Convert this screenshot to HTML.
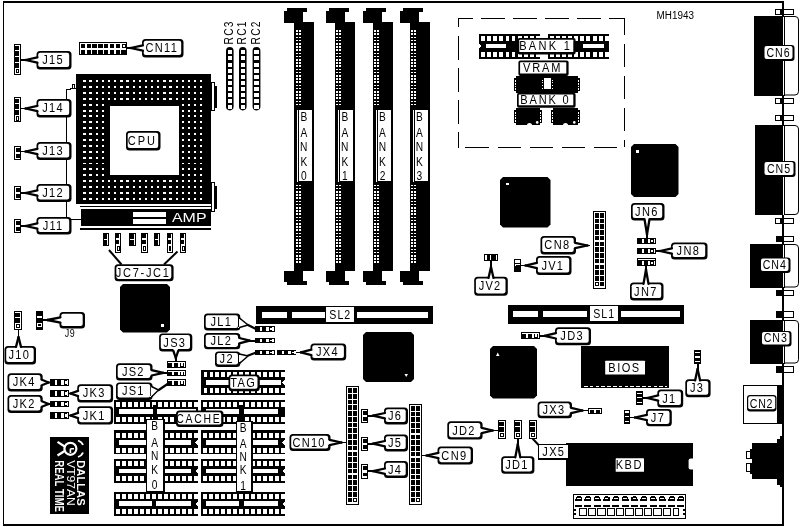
<!DOCTYPE html>
<html><head><meta charset="utf-8"><title>MH1943</title>
<style>
html,body{margin:0;padding:0;background:#fff;}
body{width:801px;height:527px;overflow:hidden;}
svg{display:block;font-family:"Liberation Sans",sans-serif;filter:grayscale(1);}
svg *{shape-rendering:crispEdges;}
svg text{shape-rendering:auto;}
svg .aa{shape-rendering:geometricPrecision;}
</style></head><body>
<svg width="801" height="527" viewBox="0 0 801 527">
<rect x="0" y="0" width="801" height="527" fill="#fff"/>
<rect x="3" y="1" width="781" height="2" fill="#000" />
<rect x="3" y="1" width="1" height="525" fill="#000" />
<rect x="3" y="524" width="781" height="2" fill="#000" />
<rect x="782" y="1" width="2" height="525" fill="#000" />
<line x1="66.5" y1="90" x2="66.5" y2="219.5" stroke="#000" stroke-width="1" />
<line x1="66" y1="219.5" x2="81" y2="219.5" stroke="#000" stroke-width="1" />
<polygon points="66.5,90 72,88.5 72,85 74,84 74.5,88 76,88" fill="none" stroke="#000" stroke-width="1" />
<rect x="14.5" y="44.5" width="6" height="29.8" fill="#fff" stroke="#000" stroke-width="1"/>
<rect x="15" y="45.6" width="4.4" height="4.76" fill="#000" />
<rect x="15" y="51.36" width="4.4" height="4.76" fill="#000" />
<rect x="15" y="57.12" width="4.4" height="4.76" fill="#000" />
<rect x="15" y="62.88" width="4.4" height="4.76" fill="#000" />
<rect x="16" y="69.24" width="2.8" height="3.56" fill="#fff" stroke="#000" stroke-width="1"/>
<rect x="36.5" y="51" width="35" height="18.5" rx="3.5" fill="#000" class="aa"/>
<rect x="38.2" y="52.7" width="31" height="14.4" rx="2.1" fill="#fff" class="aa"/>
<text transform="translate(53.1,64.3885) scale(0.85,1)" font-size="13" letter-spacing="1.53" text-anchor="middle" fill="#000"  >J15</text>
<line x1="21" y1="60" x2="27.5" y2="60" stroke="#000" stroke-width="1.8" />
<polygon points="25.5,60 38.8,57 38.8,63" fill="#fff" stroke="none" stroke-width="1" />
<line x1="25.5" y1="60" x2="37.4" y2="57.3" stroke="#000" stroke-width="2.3" class="aa" stroke-linecap="round"/>
<line x1="25.5" y1="60" x2="37.4" y2="62.7" stroke="#000" stroke-width="2.3" class="aa" stroke-linecap="round"/>
<rect x="14.5" y="97.5" width="6" height="24" fill="#fff" stroke="#000" stroke-width="1"/>
<rect x="15" y="98.6" width="4.4" height="4.75" fill="#000" />
<rect x="15" y="104.35" width="4.4" height="4.75" fill="#000" />
<rect x="15" y="110.1" width="4.4" height="4.75" fill="#000" />
<rect x="16" y="116.45" width="2.8" height="3.55" fill="#fff" stroke="#000" stroke-width="1"/>
<rect x="36.5" y="99" width="35" height="18.5" rx="3.5" fill="#000" class="aa"/>
<rect x="38.2" y="100.7" width="31" height="14.4" rx="2.1" fill="#fff" class="aa"/>
<text transform="translate(53.1,112.389) scale(0.85,1)" font-size="13" letter-spacing="1.53" text-anchor="middle" fill="#000"  >J14</text>
<line x1="21" y1="108.5" x2="27.5" y2="108.5" stroke="#000" stroke-width="1.8" />
<polygon points="25.5,108.5 38.8,105.5 38.8,111.5" fill="#fff" stroke="none" stroke-width="1" />
<line x1="25.5" y1="108.5" x2="37.4" y2="105.8" stroke="#000" stroke-width="2.3" class="aa" stroke-linecap="round"/>
<line x1="25.5" y1="108.5" x2="37.4" y2="111.2" stroke="#000" stroke-width="2.3" class="aa" stroke-linecap="round"/>
<rect x="14" y="145.9" width="7" height="14.1" fill="#000" />
<rect x="15" y="146.9" width="5" height="12.1" fill="#fff" />
<rect x="16.2" y="148" width="4.8" height="3.75" fill="#000" />
<rect x="16.2" y="154.15" width="4.8" height="3.75" fill="#000" />
<rect x="36.5" y="142" width="35" height="18" rx="3.5" fill="#000" class="aa"/>
<rect x="38.2" y="143.7" width="31" height="13.9" rx="2.1" fill="#fff" class="aa"/>
<text transform="translate(53.1,155.138) scale(0.85,1)" font-size="13" letter-spacing="1.53" text-anchor="middle" fill="#000"  >J13</text>
<line x1="21" y1="151.5" x2="27.5" y2="151.5" stroke="#000" stroke-width="1.8" />
<polygon points="25.5,151.5 38.8,148.5 38.8,154.5" fill="#fff" stroke="none" stroke-width="1" />
<line x1="25.5" y1="151.5" x2="37.4" y2="148.8" stroke="#000" stroke-width="2.3" class="aa" stroke-linecap="round"/>
<line x1="25.5" y1="151.5" x2="37.4" y2="154.2" stroke="#000" stroke-width="2.3" class="aa" stroke-linecap="round"/>
<rect x="14" y="185.9" width="7" height="14.1" fill="#000" />
<rect x="15" y="186.9" width="5" height="12.1" fill="#fff" />
<rect x="16.2" y="188" width="4.8" height="3.75" fill="#000" />
<rect x="16.2" y="194.15" width="4.8" height="3.75" fill="#000" />
<rect x="36.5" y="184" width="35" height="18" rx="3.5" fill="#000" class="aa"/>
<rect x="38.2" y="185.7" width="31" height="13.9" rx="2.1" fill="#fff" class="aa"/>
<text transform="translate(53.1,197.138) scale(0.85,1)" font-size="13" letter-spacing="1.53" text-anchor="middle" fill="#000"  >J12</text>
<line x1="21" y1="193" x2="27.5" y2="193" stroke="#000" stroke-width="1.8" />
<polygon points="25.5,193 38.8,190 38.8,196" fill="#fff" stroke="none" stroke-width="1" />
<line x1="25.5" y1="193" x2="37.4" y2="190.3" stroke="#000" stroke-width="2.3" class="aa" stroke-linecap="round"/>
<line x1="25.5" y1="193" x2="37.4" y2="195.7" stroke="#000" stroke-width="2.3" class="aa" stroke-linecap="round"/>
<rect x="14" y="218.9" width="7" height="14.1" fill="#000" />
<rect x="15" y="219.9" width="5" height="12.1" fill="#fff" />
<rect x="16.2" y="221" width="4.8" height="3.75" fill="#000" />
<rect x="16.2" y="227.15" width="4.8" height="3.75" fill="#000" />
<rect x="36.5" y="217" width="35" height="17.5" rx="3.5" fill="#000" class="aa"/>
<rect x="38.2" y="218.7" width="31" height="13.4" rx="2.1" fill="#fff" class="aa"/>
<text transform="translate(53.1,229.888) scale(0.85,1)" font-size="13" letter-spacing="1.53" text-anchor="middle" fill="#000"  >J11</text>
<line x1="21" y1="226" x2="27.5" y2="226" stroke="#000" stroke-width="1.8" />
<polygon points="25.5,226 38.8,223 38.8,229" fill="#fff" stroke="none" stroke-width="1" />
<line x1="25.5" y1="226" x2="37.4" y2="223.3" stroke="#000" stroke-width="2.3" class="aa" stroke-linecap="round"/>
<line x1="25.5" y1="226" x2="37.4" y2="228.7" stroke="#000" stroke-width="2.3" class="aa" stroke-linecap="round"/>
<rect x="79.5" y="42.5" width="47" height="11.6" fill="#fff" stroke="#000" stroke-width="1"/>
<rect x="80.8" y="44" width="4.4" height="4" fill="#000" />
<rect x="80.8" y="49.6" width="4.4" height="4" fill="#000" />
<rect x="86.6" y="44" width="4.4" height="4" fill="#000" />
<rect x="86.6" y="49.6" width="4.4" height="4" fill="#000" />
<rect x="92.4" y="44" width="4.4" height="4" fill="#000" />
<rect x="92.4" y="49.6" width="4.4" height="4" fill="#000" />
<rect x="98.2" y="44" width="4.4" height="4" fill="#000" />
<rect x="98.2" y="49.6" width="4.4" height="4" fill="#000" />
<rect x="104" y="44" width="4.4" height="4" fill="#000" />
<rect x="104" y="49.6" width="4.4" height="4" fill="#000" />
<rect x="109.8" y="44" width="4.4" height="4" fill="#000" />
<rect x="109.8" y="49.6" width="4.4" height="4" fill="#000" />
<rect x="115.6" y="44" width="4.4" height="4" fill="#000" />
<rect x="115.6" y="49.6" width="4.4" height="4" fill="#000" />
<rect x="122.4" y="44.5" width="2.6" height="3" fill="#fff" stroke="#000" stroke-width="1"/>
<rect x="121.4" y="49.6" width="4.4" height="4" fill="#000" />
<rect x="142" y="39" width="41.5" height="18.5" rx="3.5" fill="#000" class="aa"/>
<rect x="143.7" y="40.7" width="37.5" height="14.4" rx="2.1" fill="#fff" class="aa"/>
<text transform="translate(161.85,52.3885) scale(0.85,1)" font-size="13" letter-spacing="1.53" text-anchor="middle" fill="#000"  >CN11</text>
<line x1="127" y1="48" x2="132.5" y2="48" stroke="#000" stroke-width="1.8" />
<polygon points="130.5,48 144.3,45 144.3,51" fill="#fff" stroke="none" stroke-width="1" />
<line x1="130.5" y1="48" x2="142.9" y2="45.3" stroke="#000" stroke-width="2.3" class="aa" stroke-linecap="round"/>
<line x1="130.5" y1="48" x2="142.9" y2="50.7" stroke="#000" stroke-width="2.3" class="aa" stroke-linecap="round"/>
<rect x="76" y="74" width="135" height="130" fill="#000" />
<rect x="83.3" y="80.2" width="2.3" height="1.9" fill="#fff" />
<rect x="83.3" y="86.08" width="2.3" height="1.9" fill="#fff" />
<rect x="83.3" y="91.96" width="2.3" height="1.9" fill="#fff" />
<rect x="83.3" y="97.84" width="2.3" height="1.9" fill="#fff" />
<rect x="83.3" y="103.72" width="2.3" height="1.9" fill="#fff" />
<rect x="83.3" y="109.6" width="2.3" height="1.9" fill="#fff" />
<rect x="83.3" y="115.48" width="2.3" height="1.9" fill="#fff" />
<rect x="83.3" y="121.36" width="2.3" height="1.9" fill="#fff" />
<rect x="83.3" y="127.24" width="2.3" height="1.9" fill="#fff" />
<rect x="83.3" y="133.12" width="2.3" height="1.9" fill="#fff" />
<rect x="83.3" y="139" width="2.3" height="1.9" fill="#fff" />
<rect x="83.3" y="144.88" width="2.3" height="1.9" fill="#fff" />
<rect x="83.3" y="150.76" width="2.3" height="1.9" fill="#fff" />
<rect x="83.3" y="156.64" width="2.3" height="1.9" fill="#fff" />
<rect x="83.3" y="162.52" width="2.3" height="1.9" fill="#fff" />
<rect x="83.3" y="168.4" width="2.3" height="1.9" fill="#fff" />
<rect x="83.3" y="174.28" width="2.3" height="1.9" fill="#fff" />
<rect x="83.3" y="180.16" width="2.3" height="1.9" fill="#fff" />
<rect x="83.3" y="186.04" width="2.3" height="1.9" fill="#fff" />
<rect x="83.3" y="191.92" width="2.3" height="1.9" fill="#fff" />
<rect x="83.3" y="197.8" width="2.3" height="1.9" fill="#fff" />
<rect x="89.45" y="80.2" width="2.3" height="1.9" fill="#fff" />
<rect x="89.45" y="86.08" width="2.3" height="1.9" fill="#fff" />
<rect x="89.45" y="91.96" width="2.3" height="1.9" fill="#fff" />
<rect x="89.45" y="97.84" width="2.3" height="1.9" fill="#fff" />
<rect x="89.45" y="103.72" width="2.3" height="1.9" fill="#fff" />
<rect x="89.45" y="109.6" width="2.3" height="1.9" fill="#fff" />
<rect x="89.45" y="115.48" width="2.3" height="1.9" fill="#fff" />
<rect x="89.45" y="121.36" width="2.3" height="1.9" fill="#fff" />
<rect x="89.45" y="127.24" width="2.3" height="1.9" fill="#fff" />
<rect x="89.45" y="133.12" width="2.3" height="1.9" fill="#fff" />
<rect x="89.45" y="139" width="2.3" height="1.9" fill="#fff" />
<rect x="89.45" y="144.88" width="2.3" height="1.9" fill="#fff" />
<rect x="89.45" y="150.76" width="2.3" height="1.9" fill="#fff" />
<rect x="89.45" y="156.64" width="2.3" height="1.9" fill="#fff" />
<rect x="89.45" y="162.52" width="2.3" height="1.9" fill="#fff" />
<rect x="89.45" y="168.4" width="2.3" height="1.9" fill="#fff" />
<rect x="89.45" y="174.28" width="2.3" height="1.9" fill="#fff" />
<rect x="89.45" y="180.16" width="2.3" height="1.9" fill="#fff" />
<rect x="89.45" y="186.04" width="2.3" height="1.9" fill="#fff" />
<rect x="89.45" y="191.92" width="2.3" height="1.9" fill="#fff" />
<rect x="89.45" y="197.8" width="2.3" height="1.9" fill="#fff" />
<rect x="95.6" y="80.2" width="2.3" height="1.9" fill="#fff" />
<rect x="95.6" y="86.08" width="2.3" height="1.9" fill="#fff" />
<rect x="95.6" y="91.96" width="2.3" height="1.9" fill="#fff" />
<rect x="95.6" y="97.84" width="2.3" height="1.9" fill="#fff" />
<rect x="95.6" y="103.72" width="2.3" height="1.9" fill="#fff" />
<rect x="95.6" y="109.6" width="2.3" height="1.9" fill="#fff" />
<rect x="95.6" y="115.48" width="2.3" height="1.9" fill="#fff" />
<rect x="95.6" y="121.36" width="2.3" height="1.9" fill="#fff" />
<rect x="95.6" y="127.24" width="2.3" height="1.9" fill="#fff" />
<rect x="95.6" y="133.12" width="2.3" height="1.9" fill="#fff" />
<rect x="95.6" y="139" width="2.3" height="1.9" fill="#fff" />
<rect x="95.6" y="144.88" width="2.3" height="1.9" fill="#fff" />
<rect x="95.6" y="150.76" width="2.3" height="1.9" fill="#fff" />
<rect x="95.6" y="156.64" width="2.3" height="1.9" fill="#fff" />
<rect x="95.6" y="162.52" width="2.3" height="1.9" fill="#fff" />
<rect x="95.6" y="168.4" width="2.3" height="1.9" fill="#fff" />
<rect x="95.6" y="174.28" width="2.3" height="1.9" fill="#fff" />
<rect x="95.6" y="180.16" width="2.3" height="1.9" fill="#fff" />
<rect x="95.6" y="186.04" width="2.3" height="1.9" fill="#fff" />
<rect x="95.6" y="191.92" width="2.3" height="1.9" fill="#fff" />
<rect x="95.6" y="197.8" width="2.3" height="1.9" fill="#fff" />
<rect x="101.75" y="80.2" width="2.3" height="1.9" fill="#fff" />
<rect x="101.75" y="86.08" width="2.3" height="1.9" fill="#fff" />
<rect x="101.75" y="91.96" width="2.3" height="1.9" fill="#fff" />
<rect x="101.75" y="97.84" width="2.3" height="1.9" fill="#fff" />
<rect x="101.75" y="103.72" width="2.3" height="1.9" fill="#fff" />
<rect x="101.75" y="109.6" width="2.3" height="1.9" fill="#fff" />
<rect x="101.75" y="115.48" width="2.3" height="1.9" fill="#fff" />
<rect x="101.75" y="121.36" width="2.3" height="1.9" fill="#fff" />
<rect x="101.75" y="127.24" width="2.3" height="1.9" fill="#fff" />
<rect x="101.75" y="133.12" width="2.3" height="1.9" fill="#fff" />
<rect x="101.75" y="139" width="2.3" height="1.9" fill="#fff" />
<rect x="101.75" y="144.88" width="2.3" height="1.9" fill="#fff" />
<rect x="101.75" y="150.76" width="2.3" height="1.9" fill="#fff" />
<rect x="101.75" y="156.64" width="2.3" height="1.9" fill="#fff" />
<rect x="101.75" y="162.52" width="2.3" height="1.9" fill="#fff" />
<rect x="101.75" y="168.4" width="2.3" height="1.9" fill="#fff" />
<rect x="101.75" y="174.28" width="2.3" height="1.9" fill="#fff" />
<rect x="101.75" y="180.16" width="2.3" height="1.9" fill="#fff" />
<rect x="101.75" y="186.04" width="2.3" height="1.9" fill="#fff" />
<rect x="101.75" y="191.92" width="2.3" height="1.9" fill="#fff" />
<rect x="101.75" y="197.8" width="2.3" height="1.9" fill="#fff" />
<rect x="107.9" y="80.2" width="2.3" height="1.9" fill="#fff" />
<rect x="107.9" y="86.08" width="2.3" height="1.9" fill="#fff" />
<rect x="107.9" y="91.96" width="2.3" height="1.9" fill="#fff" />
<rect x="107.9" y="97.84" width="2.3" height="1.9" fill="#fff" />
<rect x="107.9" y="180.16" width="2.3" height="1.9" fill="#fff" />
<rect x="107.9" y="186.04" width="2.3" height="1.9" fill="#fff" />
<rect x="107.9" y="191.92" width="2.3" height="1.9" fill="#fff" />
<rect x="107.9" y="197.8" width="2.3" height="1.9" fill="#fff" />
<rect x="114.05" y="80.2" width="2.3" height="1.9" fill="#fff" />
<rect x="114.05" y="86.08" width="2.3" height="1.9" fill="#fff" />
<rect x="114.05" y="91.96" width="2.3" height="1.9" fill="#fff" />
<rect x="114.05" y="97.84" width="2.3" height="1.9" fill="#fff" />
<rect x="114.05" y="180.16" width="2.3" height="1.9" fill="#fff" />
<rect x="114.05" y="186.04" width="2.3" height="1.9" fill="#fff" />
<rect x="114.05" y="191.92" width="2.3" height="1.9" fill="#fff" />
<rect x="114.05" y="197.8" width="2.3" height="1.9" fill="#fff" />
<rect x="120.2" y="80.2" width="2.3" height="1.9" fill="#fff" />
<rect x="120.2" y="86.08" width="2.3" height="1.9" fill="#fff" />
<rect x="120.2" y="91.96" width="2.3" height="1.9" fill="#fff" />
<rect x="120.2" y="97.84" width="2.3" height="1.9" fill="#fff" />
<rect x="120.2" y="180.16" width="2.3" height="1.9" fill="#fff" />
<rect x="120.2" y="186.04" width="2.3" height="1.9" fill="#fff" />
<rect x="120.2" y="191.92" width="2.3" height="1.9" fill="#fff" />
<rect x="120.2" y="197.8" width="2.3" height="1.9" fill="#fff" />
<rect x="126.35" y="80.2" width="2.3" height="1.9" fill="#fff" />
<rect x="126.35" y="86.08" width="2.3" height="1.9" fill="#fff" />
<rect x="126.35" y="91.96" width="2.3" height="1.9" fill="#fff" />
<rect x="126.35" y="97.84" width="2.3" height="1.9" fill="#fff" />
<rect x="126.35" y="180.16" width="2.3" height="1.9" fill="#fff" />
<rect x="126.35" y="186.04" width="2.3" height="1.9" fill="#fff" />
<rect x="126.35" y="191.92" width="2.3" height="1.9" fill="#fff" />
<rect x="126.35" y="197.8" width="2.3" height="1.9" fill="#fff" />
<rect x="132.5" y="80.2" width="2.3" height="1.9" fill="#fff" />
<rect x="132.5" y="86.08" width="2.3" height="1.9" fill="#fff" />
<rect x="132.5" y="91.96" width="2.3" height="1.9" fill="#fff" />
<rect x="132.5" y="97.84" width="2.3" height="1.9" fill="#fff" />
<rect x="132.5" y="180.16" width="2.3" height="1.9" fill="#fff" />
<rect x="132.5" y="186.04" width="2.3" height="1.9" fill="#fff" />
<rect x="132.5" y="191.92" width="2.3" height="1.9" fill="#fff" />
<rect x="132.5" y="197.8" width="2.3" height="1.9" fill="#fff" />
<rect x="138.65" y="80.2" width="2.3" height="1.9" fill="#fff" />
<rect x="138.65" y="86.08" width="2.3" height="1.9" fill="#fff" />
<rect x="138.65" y="91.96" width="2.3" height="1.9" fill="#fff" />
<rect x="138.65" y="97.84" width="2.3" height="1.9" fill="#fff" />
<rect x="138.65" y="180.16" width="2.3" height="1.9" fill="#fff" />
<rect x="138.65" y="186.04" width="2.3" height="1.9" fill="#fff" />
<rect x="138.65" y="191.92" width="2.3" height="1.9" fill="#fff" />
<rect x="138.65" y="197.8" width="2.3" height="1.9" fill="#fff" />
<rect x="144.8" y="80.2" width="2.3" height="1.9" fill="#fff" />
<rect x="144.8" y="86.08" width="2.3" height="1.9" fill="#fff" />
<rect x="144.8" y="91.96" width="2.3" height="1.9" fill="#fff" />
<rect x="144.8" y="97.84" width="2.3" height="1.9" fill="#fff" />
<rect x="144.8" y="180.16" width="2.3" height="1.9" fill="#fff" />
<rect x="144.8" y="186.04" width="2.3" height="1.9" fill="#fff" />
<rect x="144.8" y="191.92" width="2.3" height="1.9" fill="#fff" />
<rect x="144.8" y="197.8" width="2.3" height="1.9" fill="#fff" />
<rect x="150.95" y="80.2" width="2.3" height="1.9" fill="#fff" />
<rect x="150.95" y="86.08" width="2.3" height="1.9" fill="#fff" />
<rect x="150.95" y="91.96" width="2.3" height="1.9" fill="#fff" />
<rect x="150.95" y="97.84" width="2.3" height="1.9" fill="#fff" />
<rect x="150.95" y="180.16" width="2.3" height="1.9" fill="#fff" />
<rect x="150.95" y="186.04" width="2.3" height="1.9" fill="#fff" />
<rect x="150.95" y="191.92" width="2.3" height="1.9" fill="#fff" />
<rect x="150.95" y="197.8" width="2.3" height="1.9" fill="#fff" />
<rect x="157.1" y="80.2" width="2.3" height="1.9" fill="#fff" />
<rect x="157.1" y="86.08" width="2.3" height="1.9" fill="#fff" />
<rect x="157.1" y="91.96" width="2.3" height="1.9" fill="#fff" />
<rect x="157.1" y="97.84" width="2.3" height="1.9" fill="#fff" />
<rect x="157.1" y="180.16" width="2.3" height="1.9" fill="#fff" />
<rect x="157.1" y="186.04" width="2.3" height="1.9" fill="#fff" />
<rect x="157.1" y="191.92" width="2.3" height="1.9" fill="#fff" />
<rect x="157.1" y="197.8" width="2.3" height="1.9" fill="#fff" />
<rect x="163.25" y="80.2" width="2.3" height="1.9" fill="#fff" />
<rect x="163.25" y="86.08" width="2.3" height="1.9" fill="#fff" />
<rect x="163.25" y="91.96" width="2.3" height="1.9" fill="#fff" />
<rect x="163.25" y="97.84" width="2.3" height="1.9" fill="#fff" />
<rect x="163.25" y="180.16" width="2.3" height="1.9" fill="#fff" />
<rect x="163.25" y="186.04" width="2.3" height="1.9" fill="#fff" />
<rect x="163.25" y="191.92" width="2.3" height="1.9" fill="#fff" />
<rect x="163.25" y="197.8" width="2.3" height="1.9" fill="#fff" />
<rect x="169.4" y="80.2" width="2.3" height="1.9" fill="#fff" />
<rect x="169.4" y="86.08" width="2.3" height="1.9" fill="#fff" />
<rect x="169.4" y="91.96" width="2.3" height="1.9" fill="#fff" />
<rect x="169.4" y="97.84" width="2.3" height="1.9" fill="#fff" />
<rect x="169.4" y="180.16" width="2.3" height="1.9" fill="#fff" />
<rect x="169.4" y="186.04" width="2.3" height="1.9" fill="#fff" />
<rect x="169.4" y="191.92" width="2.3" height="1.9" fill="#fff" />
<rect x="169.4" y="197.8" width="2.3" height="1.9" fill="#fff" />
<rect x="175.55" y="80.2" width="2.3" height="1.9" fill="#fff" />
<rect x="175.55" y="86.08" width="2.3" height="1.9" fill="#fff" />
<rect x="175.55" y="91.96" width="2.3" height="1.9" fill="#fff" />
<rect x="175.55" y="97.84" width="2.3" height="1.9" fill="#fff" />
<rect x="175.55" y="180.16" width="2.3" height="1.9" fill="#fff" />
<rect x="175.55" y="186.04" width="2.3" height="1.9" fill="#fff" />
<rect x="175.55" y="191.92" width="2.3" height="1.9" fill="#fff" />
<rect x="175.55" y="197.8" width="2.3" height="1.9" fill="#fff" />
<rect x="181.7" y="80.2" width="2.3" height="1.9" fill="#fff" />
<rect x="181.7" y="86.08" width="2.3" height="1.9" fill="#fff" />
<rect x="181.7" y="91.96" width="2.3" height="1.9" fill="#fff" />
<rect x="181.7" y="97.84" width="2.3" height="1.9" fill="#fff" />
<rect x="181.7" y="103.72" width="2.3" height="1.9" fill="#fff" />
<rect x="181.7" y="109.6" width="2.3" height="1.9" fill="#fff" />
<rect x="181.7" y="115.48" width="2.3" height="1.9" fill="#fff" />
<rect x="181.7" y="121.36" width="2.3" height="1.9" fill="#fff" />
<rect x="181.7" y="127.24" width="2.3" height="1.9" fill="#fff" />
<rect x="181.7" y="133.12" width="2.3" height="1.9" fill="#fff" />
<rect x="181.7" y="139" width="2.3" height="1.9" fill="#fff" />
<rect x="181.7" y="144.88" width="2.3" height="1.9" fill="#fff" />
<rect x="181.7" y="150.76" width="2.3" height="1.9" fill="#fff" />
<rect x="181.7" y="156.64" width="2.3" height="1.9" fill="#fff" />
<rect x="181.7" y="162.52" width="2.3" height="1.9" fill="#fff" />
<rect x="181.7" y="168.4" width="2.3" height="1.9" fill="#fff" />
<rect x="181.7" y="174.28" width="2.3" height="1.9" fill="#fff" />
<rect x="181.7" y="180.16" width="2.3" height="1.9" fill="#fff" />
<rect x="181.7" y="186.04" width="2.3" height="1.9" fill="#fff" />
<rect x="181.7" y="191.92" width="2.3" height="1.9" fill="#fff" />
<rect x="181.7" y="197.8" width="2.3" height="1.9" fill="#fff" />
<rect x="187.85" y="80.2" width="2.3" height="1.9" fill="#fff" />
<rect x="187.85" y="86.08" width="2.3" height="1.9" fill="#fff" />
<rect x="187.85" y="91.96" width="2.3" height="1.9" fill="#fff" />
<rect x="187.85" y="97.84" width="2.3" height="1.9" fill="#fff" />
<rect x="187.85" y="103.72" width="2.3" height="1.9" fill="#fff" />
<rect x="187.85" y="109.6" width="2.3" height="1.9" fill="#fff" />
<rect x="187.85" y="115.48" width="2.3" height="1.9" fill="#fff" />
<rect x="187.85" y="121.36" width="2.3" height="1.9" fill="#fff" />
<rect x="187.85" y="127.24" width="2.3" height="1.9" fill="#fff" />
<rect x="187.85" y="133.12" width="2.3" height="1.9" fill="#fff" />
<rect x="187.85" y="139" width="2.3" height="1.9" fill="#fff" />
<rect x="187.85" y="144.88" width="2.3" height="1.9" fill="#fff" />
<rect x="187.85" y="150.76" width="2.3" height="1.9" fill="#fff" />
<rect x="187.85" y="156.64" width="2.3" height="1.9" fill="#fff" />
<rect x="187.85" y="162.52" width="2.3" height="1.9" fill="#fff" />
<rect x="187.85" y="168.4" width="2.3" height="1.9" fill="#fff" />
<rect x="187.85" y="174.28" width="2.3" height="1.9" fill="#fff" />
<rect x="187.85" y="180.16" width="2.3" height="1.9" fill="#fff" />
<rect x="187.85" y="186.04" width="2.3" height="1.9" fill="#fff" />
<rect x="187.85" y="191.92" width="2.3" height="1.9" fill="#fff" />
<rect x="187.85" y="197.8" width="2.3" height="1.9" fill="#fff" />
<rect x="194" y="80.2" width="2.3" height="1.9" fill="#fff" />
<rect x="194" y="86.08" width="2.3" height="1.9" fill="#fff" />
<rect x="194" y="91.96" width="2.3" height="1.9" fill="#fff" />
<rect x="194" y="97.84" width="2.3" height="1.9" fill="#fff" />
<rect x="194" y="103.72" width="2.3" height="1.9" fill="#fff" />
<rect x="194" y="109.6" width="2.3" height="1.9" fill="#fff" />
<rect x="194" y="115.48" width="2.3" height="1.9" fill="#fff" />
<rect x="194" y="121.36" width="2.3" height="1.9" fill="#fff" />
<rect x="194" y="127.24" width="2.3" height="1.9" fill="#fff" />
<rect x="194" y="133.12" width="2.3" height="1.9" fill="#fff" />
<rect x="194" y="139" width="2.3" height="1.9" fill="#fff" />
<rect x="194" y="144.88" width="2.3" height="1.9" fill="#fff" />
<rect x="194" y="150.76" width="2.3" height="1.9" fill="#fff" />
<rect x="194" y="156.64" width="2.3" height="1.9" fill="#fff" />
<rect x="194" y="162.52" width="2.3" height="1.9" fill="#fff" />
<rect x="194" y="168.4" width="2.3" height="1.9" fill="#fff" />
<rect x="194" y="174.28" width="2.3" height="1.9" fill="#fff" />
<rect x="194" y="180.16" width="2.3" height="1.9" fill="#fff" />
<rect x="194" y="186.04" width="2.3" height="1.9" fill="#fff" />
<rect x="194" y="191.92" width="2.3" height="1.9" fill="#fff" />
<rect x="194" y="197.8" width="2.3" height="1.9" fill="#fff" />
<rect x="200.15" y="80.2" width="2.3" height="1.9" fill="#fff" />
<rect x="200.15" y="86.08" width="2.3" height="1.9" fill="#fff" />
<rect x="200.15" y="91.96" width="2.3" height="1.9" fill="#fff" />
<rect x="200.15" y="97.84" width="2.3" height="1.9" fill="#fff" />
<rect x="200.15" y="103.72" width="2.3" height="1.9" fill="#fff" />
<rect x="200.15" y="109.6" width="2.3" height="1.9" fill="#fff" />
<rect x="200.15" y="115.48" width="2.3" height="1.9" fill="#fff" />
<rect x="200.15" y="121.36" width="2.3" height="1.9" fill="#fff" />
<rect x="200.15" y="127.24" width="2.3" height="1.9" fill="#fff" />
<rect x="200.15" y="133.12" width="2.3" height="1.9" fill="#fff" />
<rect x="200.15" y="139" width="2.3" height="1.9" fill="#fff" />
<rect x="200.15" y="144.88" width="2.3" height="1.9" fill="#fff" />
<rect x="200.15" y="150.76" width="2.3" height="1.9" fill="#fff" />
<rect x="200.15" y="156.64" width="2.3" height="1.9" fill="#fff" />
<rect x="200.15" y="162.52" width="2.3" height="1.9" fill="#fff" />
<rect x="200.15" y="168.4" width="2.3" height="1.9" fill="#fff" />
<rect x="200.15" y="174.28" width="2.3" height="1.9" fill="#fff" />
<rect x="200.15" y="180.16" width="2.3" height="1.9" fill="#fff" />
<rect x="200.15" y="186.04" width="2.3" height="1.9" fill="#fff" />
<rect x="200.15" y="191.92" width="2.3" height="1.9" fill="#fff" />
<rect x="200.15" y="197.8" width="2.3" height="1.9" fill="#fff" />
<rect x="110" y="106" width="69" height="69" fill="#fff" />
<rect x="126" y="131" width="34.5" height="19.5" rx="3.5" fill="#000" class="aa"/>
<rect x="127.7" y="132.7" width="30.5" height="15.4" rx="2.1" fill="#fff" class="aa"/>
<text transform="translate(142.35,144.888) scale(0.85,1)" font-size="13" letter-spacing="2.35" text-anchor="middle" fill="#000"  >CPU</text>
<rect x="211.5" y="82.5" width="3" height="27.5" fill="#fff" stroke="#000" stroke-width="1"/>
<rect x="214" y="85.5" width="2.6" height="22.5" fill="#000" />
<rect x="211.5" y="182.5" width="3" height="29" fill="#fff" stroke="#000" stroke-width="1"/>
<rect x="214" y="185.5" width="2.6" height="23.5" fill="#000" />
<rect x="80" y="205.6" width="131" height="1.4" fill="#000" />
<rect x="80" y="228.4" width="131" height="1.4" fill="#000" />
<rect x="81" y="208.6" width="129.6" height="17.8" fill="#000" />
<rect x="132.5" y="212" width="33.5" height="12" fill="#fff" />
<rect x="132.5" y="217.4" width="33.5" height="1.6" fill="#000" />
<text x="172" y="221.9" font-size="13" fill="#fff" textLength="34.5" lengthAdjust="spacingAndGlyphs">AMP</text>
<rect x="226" y="47" width="7.6" height="63.4" rx="3.8" fill="#000" class="aa"/>
<rect x="227.8" y="50.3" width="4" height="4" fill="#fff" />
<rect x="227.8" y="56.4" width="4" height="4" fill="#fff" />
<rect x="227.8" y="62.5" width="4" height="4" fill="#fff" />
<rect x="227.8" y="68.6" width="4" height="4" fill="#fff" />
<rect x="227.8" y="74.7" width="4" height="4" fill="#fff" />
<rect x="227.8" y="80.8" width="4" height="4" fill="#fff" />
<rect x="227.8" y="86.9" width="4" height="4" fill="#fff" />
<rect x="227.8" y="93" width="4" height="4" fill="#fff" />
<rect x="227.8" y="99.1" width="4" height="4" fill="#fff" />
<rect x="227.8" y="105.2" width="4" height="4" fill="#fff" />
<text transform="translate(233,44.4) rotate(-90) scale(0.85,1)" font-size="12" letter-spacing="1.4" fill="#000">RC3</text>
<rect x="239" y="47" width="7.6" height="63.4" rx="3.8" fill="#000" class="aa"/>
<rect x="240.8" y="50.3" width="4" height="4" fill="#fff" />
<rect x="240.8" y="56.4" width="4" height="4" fill="#fff" />
<rect x="240.8" y="62.5" width="4" height="4" fill="#fff" />
<rect x="240.8" y="68.6" width="4" height="4" fill="#fff" />
<rect x="240.8" y="74.7" width="4" height="4" fill="#fff" />
<rect x="240.8" y="80.8" width="4" height="4" fill="#fff" />
<rect x="240.8" y="86.9" width="4" height="4" fill="#fff" />
<rect x="240.8" y="93" width="4" height="4" fill="#fff" />
<rect x="240.8" y="99.1" width="4" height="4" fill="#fff" />
<rect x="240.8" y="105.2" width="4" height="4" fill="#fff" />
<text transform="translate(246,44.4) rotate(-90) scale(0.85,1)" font-size="12" letter-spacing="1.4" fill="#000">RC1</text>
<rect x="252.6" y="47" width="7.8" height="63.4" rx="3.8" fill="#000" class="aa"/>
<rect x="254.4" y="50.3" width="4.2" height="4" fill="#fff" />
<rect x="254.4" y="56.4" width="4.2" height="4" fill="#fff" />
<rect x="254.4" y="62.5" width="4.2" height="4" fill="#fff" />
<rect x="254.4" y="68.6" width="4.2" height="4" fill="#fff" />
<rect x="254.4" y="74.7" width="4.2" height="4" fill="#fff" />
<rect x="254.4" y="80.8" width="4.2" height="4" fill="#fff" />
<rect x="254.4" y="86.9" width="4.2" height="4" fill="#fff" />
<rect x="254.4" y="93" width="4.2" height="4" fill="#fff" />
<rect x="254.4" y="99.1" width="4.2" height="4" fill="#fff" />
<rect x="254.4" y="105.2" width="4.2" height="4" fill="#fff" />
<text transform="translate(259.7,44.4) rotate(-90) scale(0.85,1)" font-size="12" letter-spacing="1.4" fill="#000">RC2</text>
<rect x="103.5" y="233.5" width="5" height="12" fill="#fff" stroke="#000" stroke-width="1"/>
<rect x="104" y="234.4" width="3" height="4.3" fill="#000" />
<rect x="104" y="240.2" width="3" height="4.3" fill="#000" />
<rect x="115.5" y="233.5" width="5.4" height="18.5" fill="#fff" stroke="#000" stroke-width="1"/>
<rect x="116" y="234.4" width="3.4" height="4" fill="#000" />
<rect x="116" y="239.8" width="3.4" height="4" fill="#000" />
<rect x="117.1" y="246.7" width="2.2" height="3.4" fill="#fff" stroke="#000" stroke-width="1"/>
<rect x="129.5" y="233.5" width="5.5" height="12" fill="#fff" stroke="#000" stroke-width="1"/>
<rect x="130" y="234.4" width="3.5" height="4.3" fill="#000" />
<rect x="130" y="240.2" width="3.5" height="4.3" fill="#000" />
<rect x="141.5" y="233.5" width="5.5" height="18.5" fill="#fff" stroke="#000" stroke-width="1"/>
<rect x="142" y="234.4" width="3.5" height="4" fill="#000" />
<rect x="142" y="239.8" width="3.5" height="4" fill="#000" />
<rect x="143.1" y="246.7" width="2.3" height="3.4" fill="#fff" stroke="#000" stroke-width="1"/>
<rect x="154.5" y="233.5" width="5" height="12" fill="#fff" stroke="#000" stroke-width="1"/>
<rect x="155" y="234.4" width="3" height="4.3" fill="#000" />
<rect x="155" y="240.2" width="3" height="4.3" fill="#000" />
<rect x="167.5" y="233.5" width="5" height="18.5" fill="#fff" stroke="#000" stroke-width="1"/>
<rect x="168" y="234.4" width="3" height="4" fill="#000" />
<rect x="168" y="239.8" width="3" height="4" fill="#000" />
<rect x="169.1" y="246.7" width="1.8" height="3.4" fill="#fff" stroke="#000" stroke-width="1"/>
<rect x="180.5" y="233.5" width="5.4" height="18.5" fill="#fff" stroke="#000" stroke-width="1"/>
<rect x="181" y="234.4" width="3.4" height="4" fill="#000" />
<rect x="181" y="239.8" width="3.4" height="4" fill="#000" />
<rect x="182.1" y="246.7" width="2.2" height="3.4" fill="#fff" stroke="#000" stroke-width="1"/>
<line x1="109" y1="250" x2="121.5" y2="264.5" stroke="#000" stroke-width="2" class="aa"/>
<line x1="177.5" y1="251.5" x2="164" y2="264.5" stroke="#000" stroke-width="2" class="aa"/>
<rect x="114.6" y="264.3" width="59" height="17" rx="3.5" fill="#000" class="aa"/>
<rect x="116.3" y="266" width="55" height="12.9" rx="2.1" fill="#fff" class="aa"/>
<text transform="translate(143.2,276.938) scale(0.85,1)" font-size="13" letter-spacing="2" text-anchor="middle" fill="#000"  >JC7-JC1</text>
<polygon points="123,284 167,284 170,287 170,329.5 167,332.5 123,332.5 120,329.5 120,287" fill="#000" stroke="none" stroke-width="1" class="aa"/>
<rect x="161" y="323.5" width="3.4" height="3.6" fill="#fff" />
<rect x="14.5" y="311.5" width="7" height="17.8" fill="#fff" stroke="#000" stroke-width="1"/>
<rect x="15" y="312.6" width="5.4" height="4.6" fill="#000" />
<rect x="15" y="318.2" width="5.4" height="4.6" fill="#000" />
<rect x="16" y="324.4" width="3.8" height="3.4" fill="#fff" stroke="#000" stroke-width="1"/>
<rect x="36" y="311" width="7" height="18.8" fill="#000" />
<rect x="37" y="315.8" width="5" height="2" fill="#fff" />
<rect x="37" y="323" width="5" height="4" fill="#fff" />
<rect x="38.2" y="324" width="2.6" height="2" fill="#000" />
<rect x="59.5" y="312" width="25.5" height="16.5" rx="3.5" fill="#000" class="aa"/>
<rect x="61.2" y="313.7" width="21.5" height="12.4" rx="2.1" fill="#fff" class="aa"/>
<line x1="43" y1="320" x2="49.5" y2="320" stroke="#000" stroke-width="1.8" />
<polygon points="47.5,320 61.8,317 61.8,323" fill="#fff" stroke="none" stroke-width="1" />
<line x1="47.5" y1="320" x2="60.4" y2="317.3" stroke="#000" stroke-width="2.3" class="aa" stroke-linecap="round"/>
<line x1="47.5" y1="320" x2="60.4" y2="322.7" stroke="#000" stroke-width="2.3" class="aa" stroke-linecap="round"/>
<text transform="translate(70,336.5) scale(0.85,1)" font-size="10.5" letter-spacing="0.588" text-anchor="middle" fill="#000"  >J9</text>
<rect x="4.5" y="346" width="31.5" height="18.5" rx="3.5" fill="#000" class="aa"/>
<rect x="6.2" y="347.7" width="27.5" height="14.4" rx="2.1" fill="#fff" class="aa"/>
<text transform="translate(19.35,359.388) scale(0.85,1)" font-size="13" letter-spacing="1.53" text-anchor="middle" fill="#000"  >J10</text>
<line x1="18.5" y1="329.5" x2="18.5" y2="339" stroke="#000" stroke-width="1.8" />
<polygon points="18.5,337 15.7,348.3 21.3,348.3" fill="#fff" stroke="none" stroke-width="1" />
<line x1="18.5" y1="337" x2="16" y2="346.9" stroke="#000" stroke-width="2.3" class="aa" stroke-linecap="round"/>
<line x1="18.5" y1="337" x2="21" y2="346.9" stroke="#000" stroke-width="2.3" class="aa" stroke-linecap="round"/>
<rect x="159.1" y="333.4" width="33.2" height="18.1" rx="3.5" fill="#000" class="aa"/>
<rect x="160.8" y="335.1" width="29.2" height="14" rx="2.1" fill="#fff" class="aa"/>
<text transform="translate(174.8,346.588) scale(0.85,1)" font-size="13" letter-spacing="1.53" text-anchor="middle" fill="#000"  >JS3</text>
<line x1="175.8" y1="361" x2="175.8" y2="356" stroke="#000" stroke-width="1.8" />
<polygon points="175.8,358 173,348.5 178.6,348.5" fill="#fff" stroke="none" stroke-width="1" />
<line x1="175.8" y1="358" x2="173.3" y2="350.6" stroke="#000" stroke-width="2.3" class="aa" stroke-linecap="round"/>
<line x1="175.8" y1="358" x2="178.3" y2="350.6" stroke="#000" stroke-width="2.3" class="aa" stroke-linecap="round"/>
<rect x="167" y="361" width="19.2" height="6.6" fill="#000" />
<rect x="171.9" y="362" width="2.1" height="4.6" fill="#fff" />
<rect x="177.9" y="362" width="7.4" height="4.6" fill="#fff" />
<rect x="180.3" y="362" width="3.8" height="4.6" fill="#000" />
<rect x="181.4" y="362.9" width="1.9" height="2.8" fill="#fff" />
<rect x="168" y="362.1" width="17.2" height="0.9" fill="#fff" />
<rect x="167" y="370" width="19.2" height="6.4" fill="#000" />
<rect x="171.9" y="371" width="2.1" height="4.4" fill="#fff" />
<rect x="177.9" y="371" width="7.4" height="4.4" fill="#fff" />
<rect x="180.3" y="371" width="3.8" height="4.4" fill="#000" />
<rect x="181.4" y="371.9" width="1.9" height="2.6" fill="#fff" />
<rect x="168" y="371.1" width="17.2" height="0.9" fill="#fff" />
<rect x="167" y="379" width="19.2" height="6.7" fill="#000" />
<rect x="171.9" y="380" width="2.1" height="4.7" fill="#fff" />
<rect x="177.9" y="380" width="7.4" height="4.7" fill="#fff" />
<rect x="180.3" y="380" width="3.8" height="4.7" fill="#000" />
<rect x="181.4" y="380.9" width="1.9" height="2.9" fill="#fff" />
<rect x="168" y="380.1" width="17.2" height="0.9" fill="#fff" />
<rect x="116" y="363.3" width="36.5" height="17.1" rx="3.5" fill="#000" class="aa"/>
<rect x="117.7" y="365" width="32.5" height="13" rx="2.1" fill="#fff" class="aa"/>
<text transform="translate(133.35,375.988) scale(0.85,1)" font-size="13" letter-spacing="1.53" text-anchor="middle" fill="#000"  >JS2</text>
<line x1="167" y1="372.8" x2="161.5" y2="372.8" stroke="#000" stroke-width="1.8" />
<polygon points="163.5,372.8 149.5,369.8 149.5,375.8" fill="#fff" stroke="none" stroke-width="1" />
<line x1="163.5" y1="372.8" x2="151.6" y2="370.1" stroke="#000" stroke-width="2.3" class="aa" stroke-linecap="round"/>
<line x1="163.5" y1="372.8" x2="151.6" y2="375.5" stroke="#000" stroke-width="2.3" class="aa" stroke-linecap="round"/>
<rect x="116" y="382.4" width="36.5" height="17.6" rx="3.5" fill="#000" class="aa"/>
<rect x="117.7" y="384.1" width="32.5" height="13.5" rx="2.1" fill="#fff" class="aa"/>
<text transform="translate(133.35,395.338) scale(0.85,1)" font-size="13" letter-spacing="1.53" text-anchor="middle" fill="#000"  >JS1</text>
<line x1="167.5" y1="384" x2="158" y2="390.5" stroke="#000" stroke-width="2.2" class="aa"/>
<polygon points="158,390 150.5,387 150.5,396.5" fill="#fff" stroke="none" stroke-width="1" />
<line x1="158.5" y1="390" x2="151.5" y2="386.5" stroke="#000" stroke-width="1.5" class="aa"/>
<line x1="158.5" y1="390" x2="151.5" y2="397" stroke="#000" stroke-width="1.5" class="aa"/>
<rect x="7.5" y="373.2" width="35.2" height="18.2" rx="3.5" fill="#000" class="aa"/>
<rect x="9.2" y="374.9" width="31.2" height="14.1" rx="2.1" fill="#fff" class="aa"/>
<text transform="translate(24.2,386.438) scale(0.85,1)" font-size="13" letter-spacing="1.53" text-anchor="middle" fill="#000"  >JK4</text>
<rect x="50.2" y="379.2" width="18.8" height="6.4" fill="#000" />
<rect x="55.1" y="380.2" width="2.1" height="4.4" fill="#fff" />
<rect x="61.1" y="380.2" width="7" height="4.4" fill="#fff" />
<rect x="63.5" y="380.2" width="3.8" height="4.4" fill="#000" />
<rect x="64.6" y="381.1" width="1.9" height="2.6" fill="#fff" />
<line x1="50.2" y1="382.5" x2="46.7" y2="382.5" stroke="#000" stroke-width="1.8" />
<polygon points="48.7,382.5 39.7,379.5 39.7,385.5" fill="#fff" stroke="none" stroke-width="1" />
<line x1="48.7" y1="382.5" x2="41.8" y2="379.8" stroke="#000" stroke-width="2.3" class="aa" stroke-linecap="round"/>
<line x1="48.7" y1="382.5" x2="41.8" y2="385.2" stroke="#000" stroke-width="2.3" class="aa" stroke-linecap="round"/>
<rect x="50.2" y="390.4" width="18.8" height="6.2" fill="#000" />
<rect x="55.1" y="391.4" width="2.1" height="4.2" fill="#fff" />
<rect x="61.1" y="391.4" width="7" height="4.2" fill="#fff" />
<rect x="63.5" y="391.4" width="3.8" height="4.2" fill="#000" />
<rect x="64.6" y="392.3" width="1.9" height="2.4" fill="#fff" />
<rect x="77.2" y="384.2" width="35.9" height="18.3" rx="3.5" fill="#000" class="aa"/>
<rect x="78.9" y="385.9" width="31.9" height="14.2" rx="2.1" fill="#fff" class="aa"/>
<text transform="translate(94.25,397.488) scale(0.85,1)" font-size="13" letter-spacing="1.53" text-anchor="middle" fill="#000"  >JK3</text>
<line x1="69" y1="393.5" x2="72.5" y2="393.5" stroke="#000" stroke-width="1.8" />
<polygon points="70.5,393.5 79.5,390.5 79.5,396.5" fill="#fff" stroke="none" stroke-width="1" />
<line x1="70.5" y1="393.5" x2="78.1" y2="390.8" stroke="#000" stroke-width="2.3" class="aa" stroke-linecap="round"/>
<line x1="70.5" y1="393.5" x2="78.1" y2="396.2" stroke="#000" stroke-width="2.3" class="aa" stroke-linecap="round"/>
<rect x="7.5" y="395" width="35.2" height="18" rx="3.5" fill="#000" class="aa"/>
<rect x="9.2" y="396.7" width="31.2" height="13.9" rx="2.1" fill="#fff" class="aa"/>
<text transform="translate(24.2,408.138) scale(0.85,1)" font-size="13" letter-spacing="1.53" text-anchor="middle" fill="#000"  >JK2</text>
<rect x="50.2" y="401.2" width="18.8" height="5.6" fill="#000" />
<rect x="55.1" y="402.2" width="2.1" height="3.6" fill="#fff" />
<rect x="61.1" y="402.2" width="7" height="3.6" fill="#fff" />
<rect x="63.5" y="402.2" width="3.8" height="3.6" fill="#000" />
<rect x="64.6" y="403.1" width="1.9" height="1.8" fill="#fff" />
<line x1="50.2" y1="404" x2="46.7" y2="404" stroke="#000" stroke-width="1.8" />
<polygon points="48.7,404 39.7,401 39.7,407" fill="#fff" stroke="none" stroke-width="1" />
<line x1="48.7" y1="404" x2="41.8" y2="401.3" stroke="#000" stroke-width="2.3" class="aa" stroke-linecap="round"/>
<line x1="48.7" y1="404" x2="41.8" y2="406.7" stroke="#000" stroke-width="2.3" class="aa" stroke-linecap="round"/>
<rect x="50.2" y="412.2" width="18.8" height="6.4" fill="#000" />
<rect x="55.1" y="413.2" width="2.1" height="4.4" fill="#fff" />
<rect x="61.1" y="413.2" width="7" height="4.4" fill="#fff" />
<rect x="63.5" y="413.2" width="3.8" height="4.4" fill="#000" />
<rect x="64.6" y="414.1" width="1.9" height="2.6" fill="#fff" />
<rect x="77.2" y="406.2" width="35.9" height="18.4" rx="3.5" fill="#000" class="aa"/>
<rect x="78.9" y="407.9" width="31.9" height="14.3" rx="2.1" fill="#fff" class="aa"/>
<text transform="translate(94.25,419.538) scale(0.85,1)" font-size="13" letter-spacing="1.53" text-anchor="middle" fill="#000"  >JK1</text>
<line x1="69" y1="415.5" x2="72.5" y2="415.5" stroke="#000" stroke-width="1.8" />
<polygon points="70.5,415.5 79.5,412.5 79.5,418.5" fill="#fff" stroke="none" stroke-width="1" />
<line x1="70.5" y1="415.5" x2="78.1" y2="412.8" stroke="#000" stroke-width="2.3" class="aa" stroke-linecap="round"/>
<line x1="70.5" y1="415.5" x2="78.1" y2="418.2" stroke="#000" stroke-width="2.3" class="aa" stroke-linecap="round"/>
<rect x="50" y="437" width="39" height="77" fill="#000" />
<g fill="#fff" font-weight="bold">
<text transform="translate(77,460.2) rotate(90)" font-size="11.7" textLength="45.5" lengthAdjust="spacingAndGlyphs">DALLAS</text>
<text transform="translate(54.8,460.2) rotate(90)" font-size="12.2" textLength="51.8" lengthAdjust="spacingAndGlyphs">REAL TIME</text>
</g>
<text transform="translate(66.6,460.2) rotate(90)" font-size="11.6" fill="#fff" textLength="45.5" lengthAdjust="spacingAndGlyphs">VT97AN</text>
<circle cx="70.4" cy="448.8" r="6" fill="none" stroke="#fff" stroke-width="2.2" class="aa"/>
<path d="M70.4,448.8 L70.4,453 M70.4,448.8 L74,448.8" stroke="#fff" stroke-width="1.6" fill="none" class="aa"/>
<path d="M57.5,441.8 L65.5,447 M57.5,455.5 L65.5,450.5" stroke="#fff" stroke-width="2.2" fill="none" class="aa"/>
<path d="M78,440.5 q4,1.5 5,4.5 M78,457 q4,-1.5 5,-4.5" stroke="#fff" stroke-width="1.8" fill="none" class="aa"/>
<rect x="201.3" y="370" width="83.3" height="25" fill="#000" />
<rect x="203.55" y="372.1" width="3.9" height="5" fill="#fff" />
<rect x="203.55" y="388.1" width="3.9" height="5" fill="#fff" />
<rect x="209.504" y="372.1" width="3.9" height="5" fill="#fff" />
<rect x="209.504" y="388.1" width="3.9" height="5" fill="#fff" />
<rect x="215.458" y="372.1" width="3.9" height="5" fill="#fff" />
<rect x="215.458" y="388.1" width="3.9" height="5" fill="#fff" />
<rect x="221.412" y="372.1" width="3.9" height="5" fill="#fff" />
<rect x="221.412" y="388.1" width="3.9" height="5" fill="#fff" />
<rect x="227.365" y="372.1" width="3.9" height="5" fill="#fff" />
<rect x="227.365" y="388.1" width="3.9" height="5" fill="#fff" />
<rect x="233.319" y="372.1" width="3.9" height="5" fill="#fff" />
<rect x="233.319" y="388.1" width="3.9" height="5" fill="#fff" />
<rect x="239.273" y="372.1" width="3.9" height="5" fill="#fff" />
<rect x="239.273" y="388.1" width="3.9" height="5" fill="#fff" />
<rect x="245.227" y="372.1" width="3.9" height="5" fill="#fff" />
<rect x="245.227" y="388.1" width="3.9" height="5" fill="#fff" />
<rect x="251.181" y="372.1" width="3.9" height="5" fill="#fff" />
<rect x="251.181" y="388.1" width="3.9" height="5" fill="#fff" />
<rect x="257.135" y="372.1" width="3.9" height="5" fill="#fff" />
<rect x="257.135" y="388.1" width="3.9" height="5" fill="#fff" />
<rect x="263.088" y="372.1" width="3.9" height="5" fill="#fff" />
<rect x="263.088" y="388.1" width="3.9" height="5" fill="#fff" />
<rect x="269.042" y="372.1" width="3.9" height="5" fill="#fff" />
<rect x="269.042" y="388.1" width="3.9" height="5" fill="#fff" />
<rect x="274.996" y="372.1" width="3.9" height="5" fill="#fff" />
<rect x="274.996" y="388.1" width="3.9" height="5" fill="#fff" />
<rect x="280.95" y="372.1" width="3.9" height="5" fill="#fff" />
<rect x="280.95" y="388.1" width="3.9" height="5" fill="#fff" />
<rect x="205.5" y="379.9" width="75.5" height="4.8" fill="#fff" />
<polygon points="284.8,380.2 282.4,382.5 284.8,384.8" fill="#fff" stroke="none" stroke-width="1" />
<rect x="228.5" y="374.5" width="31.3" height="16.7" rx="3.5" fill="#000" class="aa"/>
<rect x="230.2" y="376.2" width="27.3" height="12.6" rx="2.1" fill="#fff" class="aa"/>
<text transform="translate(243.25,386.988) scale(0.85,1)" font-size="13" letter-spacing="1.53" text-anchor="middle" fill="#000"  >TAG</text>
<rect x="114" y="400" width="83.5" height="24" fill="#000" />
<rect x="116.25" y="402.1" width="3.9" height="5" fill="#fff" />
<rect x="116.25" y="417.1" width="3.9" height="5" fill="#fff" />
<rect x="122.219" y="402.1" width="3.9" height="5" fill="#fff" />
<rect x="122.219" y="417.1" width="3.9" height="5" fill="#fff" />
<rect x="128.188" y="402.1" width="3.9" height="5" fill="#fff" />
<rect x="128.188" y="417.1" width="3.9" height="5" fill="#fff" />
<rect x="134.158" y="402.1" width="3.9" height="5" fill="#fff" />
<rect x="134.158" y="417.1" width="3.9" height="5" fill="#fff" />
<rect x="140.127" y="402.1" width="3.9" height="5" fill="#fff" />
<rect x="140.127" y="417.1" width="3.9" height="5" fill="#fff" />
<rect x="146.096" y="402.1" width="3.9" height="5" fill="#fff" />
<rect x="146.096" y="417.1" width="3.9" height="5" fill="#fff" />
<rect x="152.065" y="402.1" width="3.9" height="5" fill="#fff" />
<rect x="152.065" y="417.1" width="3.9" height="5" fill="#fff" />
<rect x="158.035" y="402.1" width="3.9" height="5" fill="#fff" />
<rect x="158.035" y="417.1" width="3.9" height="5" fill="#fff" />
<rect x="164.004" y="402.1" width="3.9" height="5" fill="#fff" />
<rect x="164.004" y="417.1" width="3.9" height="5" fill="#fff" />
<rect x="169.973" y="402.1" width="3.9" height="5" fill="#fff" />
<rect x="169.973" y="417.1" width="3.9" height="5" fill="#fff" />
<rect x="175.942" y="402.1" width="3.9" height="5" fill="#fff" />
<rect x="175.942" y="417.1" width="3.9" height="5" fill="#fff" />
<rect x="181.912" y="402.1" width="3.9" height="5" fill="#fff" />
<rect x="181.912" y="417.1" width="3.9" height="5" fill="#fff" />
<rect x="187.881" y="402.1" width="3.9" height="5" fill="#fff" />
<rect x="187.881" y="417.1" width="3.9" height="5" fill="#fff" />
<rect x="193.85" y="402.1" width="3.9" height="5" fill="#fff" />
<rect x="193.85" y="417.1" width="3.9" height="5" fill="#fff" />
<rect x="118.75" y="409.4" width="77.55" height="4.8" fill="#fff" />
<rect x="201" y="400" width="83.5" height="24" fill="#000" />
<rect x="203.25" y="402.1" width="3.9" height="5" fill="#fff" />
<rect x="203.25" y="417.1" width="3.9" height="5" fill="#fff" />
<rect x="209.219" y="402.1" width="3.9" height="5" fill="#fff" />
<rect x="209.219" y="417.1" width="3.9" height="5" fill="#fff" />
<rect x="215.188" y="402.1" width="3.9" height="5" fill="#fff" />
<rect x="215.188" y="417.1" width="3.9" height="5" fill="#fff" />
<rect x="221.158" y="402.1" width="3.9" height="5" fill="#fff" />
<rect x="221.158" y="417.1" width="3.9" height="5" fill="#fff" />
<rect x="227.127" y="402.1" width="3.9" height="5" fill="#fff" />
<rect x="227.127" y="417.1" width="3.9" height="5" fill="#fff" />
<rect x="233.096" y="402.1" width="3.9" height="5" fill="#fff" />
<rect x="233.096" y="417.1" width="3.9" height="5" fill="#fff" />
<rect x="239.065" y="402.1" width="3.9" height="5" fill="#fff" />
<rect x="239.065" y="417.1" width="3.9" height="5" fill="#fff" />
<rect x="245.035" y="402.1" width="3.9" height="5" fill="#fff" />
<rect x="245.035" y="417.1" width="3.9" height="5" fill="#fff" />
<rect x="251.004" y="402.1" width="3.9" height="5" fill="#fff" />
<rect x="251.004" y="417.1" width="3.9" height="5" fill="#fff" />
<rect x="256.973" y="402.1" width="3.9" height="5" fill="#fff" />
<rect x="256.973" y="417.1" width="3.9" height="5" fill="#fff" />
<rect x="262.942" y="402.1" width="3.9" height="5" fill="#fff" />
<rect x="262.942" y="417.1" width="3.9" height="5" fill="#fff" />
<rect x="268.912" y="402.1" width="3.9" height="5" fill="#fff" />
<rect x="268.912" y="417.1" width="3.9" height="5" fill="#fff" />
<rect x="274.881" y="402.1" width="3.9" height="5" fill="#fff" />
<rect x="274.881" y="417.1" width="3.9" height="5" fill="#fff" />
<rect x="280.85" y="402.1" width="3.9" height="5" fill="#fff" />
<rect x="280.85" y="417.1" width="3.9" height="5" fill="#fff" />
<rect x="205.75" y="409.4" width="72.25" height="4.8" fill="#fff" />
<rect x="114" y="430.4" width="83.5" height="24" fill="#000" />
<rect x="116.25" y="432.5" width="3.9" height="5" fill="#fff" />
<rect x="116.25" y="447.5" width="3.9" height="5" fill="#fff" />
<rect x="122.219" y="432.5" width="3.9" height="5" fill="#fff" />
<rect x="122.219" y="447.5" width="3.9" height="5" fill="#fff" />
<rect x="128.188" y="432.5" width="3.9" height="5" fill="#fff" />
<rect x="128.188" y="447.5" width="3.9" height="5" fill="#fff" />
<rect x="134.158" y="432.5" width="3.9" height="5" fill="#fff" />
<rect x="134.158" y="447.5" width="3.9" height="5" fill="#fff" />
<rect x="140.127" y="432.5" width="3.9" height="5" fill="#fff" />
<rect x="140.127" y="447.5" width="3.9" height="5" fill="#fff" />
<rect x="146.096" y="432.5" width="3.9" height="5" fill="#fff" />
<rect x="146.096" y="447.5" width="3.9" height="5" fill="#fff" />
<rect x="152.065" y="432.5" width="3.9" height="5" fill="#fff" />
<rect x="152.065" y="447.5" width="3.9" height="5" fill="#fff" />
<rect x="158.035" y="432.5" width="3.9" height="5" fill="#fff" />
<rect x="158.035" y="447.5" width="3.9" height="5" fill="#fff" />
<rect x="164.004" y="432.5" width="3.9" height="5" fill="#fff" />
<rect x="164.004" y="447.5" width="3.9" height="5" fill="#fff" />
<rect x="169.973" y="432.5" width="3.9" height="5" fill="#fff" />
<rect x="169.973" y="447.5" width="3.9" height="5" fill="#fff" />
<rect x="175.942" y="432.5" width="3.9" height="5" fill="#fff" />
<rect x="175.942" y="447.5" width="3.9" height="5" fill="#fff" />
<rect x="181.912" y="432.5" width="3.9" height="5" fill="#fff" />
<rect x="181.912" y="447.5" width="3.9" height="5" fill="#fff" />
<rect x="187.881" y="432.5" width="3.9" height="5" fill="#fff" />
<rect x="187.881" y="447.5" width="3.9" height="5" fill="#fff" />
<rect x="193.85" y="432.5" width="3.9" height="5" fill="#fff" />
<rect x="193.85" y="447.5" width="3.9" height="5" fill="#fff" />
<rect x="118.75" y="439.8" width="72.25" height="4.8" fill="#fff" />
<polygon points="197.7,440.1 195.3,442.4 197.7,444.7" fill="#fff" stroke="none" stroke-width="1" />
<rect x="201" y="430.4" width="83.5" height="24" fill="#000" />
<rect x="203.25" y="432.5" width="3.9" height="5" fill="#fff" />
<rect x="203.25" y="447.5" width="3.9" height="5" fill="#fff" />
<rect x="209.219" y="432.5" width="3.9" height="5" fill="#fff" />
<rect x="209.219" y="447.5" width="3.9" height="5" fill="#fff" />
<rect x="215.188" y="432.5" width="3.9" height="5" fill="#fff" />
<rect x="215.188" y="447.5" width="3.9" height="5" fill="#fff" />
<rect x="221.158" y="432.5" width="3.9" height="5" fill="#fff" />
<rect x="221.158" y="447.5" width="3.9" height="5" fill="#fff" />
<rect x="227.127" y="432.5" width="3.9" height="5" fill="#fff" />
<rect x="227.127" y="447.5" width="3.9" height="5" fill="#fff" />
<rect x="233.096" y="432.5" width="3.9" height="5" fill="#fff" />
<rect x="233.096" y="447.5" width="3.9" height="5" fill="#fff" />
<rect x="239.065" y="432.5" width="3.9" height="5" fill="#fff" />
<rect x="239.065" y="447.5" width="3.9" height="5" fill="#fff" />
<rect x="245.035" y="432.5" width="3.9" height="5" fill="#fff" />
<rect x="245.035" y="447.5" width="3.9" height="5" fill="#fff" />
<rect x="251.004" y="432.5" width="3.9" height="5" fill="#fff" />
<rect x="251.004" y="447.5" width="3.9" height="5" fill="#fff" />
<rect x="256.973" y="432.5" width="3.9" height="5" fill="#fff" />
<rect x="256.973" y="447.5" width="3.9" height="5" fill="#fff" />
<rect x="262.942" y="432.5" width="3.9" height="5" fill="#fff" />
<rect x="262.942" y="447.5" width="3.9" height="5" fill="#fff" />
<rect x="268.912" y="432.5" width="3.9" height="5" fill="#fff" />
<rect x="268.912" y="447.5" width="3.9" height="5" fill="#fff" />
<rect x="274.881" y="432.5" width="3.9" height="5" fill="#fff" />
<rect x="274.881" y="447.5" width="3.9" height="5" fill="#fff" />
<rect x="280.85" y="432.5" width="3.9" height="5" fill="#fff" />
<rect x="280.85" y="447.5" width="3.9" height="5" fill="#fff" />
<rect x="205.75" y="439.8" width="72.25" height="4.8" fill="#fff" />
<polygon points="284.7,440.1 282.3,442.4 284.7,444.7" fill="#fff" stroke="none" stroke-width="1" />
<rect x="114" y="459.3" width="83.5" height="23.9" fill="#000" />
<rect x="116.25" y="461.4" width="3.9" height="5" fill="#fff" />
<rect x="116.25" y="476.3" width="3.9" height="5" fill="#fff" />
<rect x="122.219" y="461.4" width="3.9" height="5" fill="#fff" />
<rect x="122.219" y="476.3" width="3.9" height="5" fill="#fff" />
<rect x="128.188" y="461.4" width="3.9" height="5" fill="#fff" />
<rect x="128.188" y="476.3" width="3.9" height="5" fill="#fff" />
<rect x="134.158" y="461.4" width="3.9" height="5" fill="#fff" />
<rect x="134.158" y="476.3" width="3.9" height="5" fill="#fff" />
<rect x="140.127" y="461.4" width="3.9" height="5" fill="#fff" />
<rect x="140.127" y="476.3" width="3.9" height="5" fill="#fff" />
<rect x="146.096" y="461.4" width="3.9" height="5" fill="#fff" />
<rect x="146.096" y="476.3" width="3.9" height="5" fill="#fff" />
<rect x="152.065" y="461.4" width="3.9" height="5" fill="#fff" />
<rect x="152.065" y="476.3" width="3.9" height="5" fill="#fff" />
<rect x="158.035" y="461.4" width="3.9" height="5" fill="#fff" />
<rect x="158.035" y="476.3" width="3.9" height="5" fill="#fff" />
<rect x="164.004" y="461.4" width="3.9" height="5" fill="#fff" />
<rect x="164.004" y="476.3" width="3.9" height="5" fill="#fff" />
<rect x="169.973" y="461.4" width="3.9" height="5" fill="#fff" />
<rect x="169.973" y="476.3" width="3.9" height="5" fill="#fff" />
<rect x="175.942" y="461.4" width="3.9" height="5" fill="#fff" />
<rect x="175.942" y="476.3" width="3.9" height="5" fill="#fff" />
<rect x="181.912" y="461.4" width="3.9" height="5" fill="#fff" />
<rect x="181.912" y="476.3" width="3.9" height="5" fill="#fff" />
<rect x="187.881" y="461.4" width="3.9" height="5" fill="#fff" />
<rect x="187.881" y="476.3" width="3.9" height="5" fill="#fff" />
<rect x="193.85" y="461.4" width="3.9" height="5" fill="#fff" />
<rect x="193.85" y="476.3" width="3.9" height="5" fill="#fff" />
<rect x="118.75" y="468.65" width="72.25" height="4.8" fill="#fff" />
<polygon points="197.7,468.95 195.3,471.25 197.7,473.55" fill="#fff" stroke="none" stroke-width="1" />
<rect x="201" y="459.3" width="83.5" height="23.9" fill="#000" />
<rect x="203.25" y="461.4" width="3.9" height="5" fill="#fff" />
<rect x="203.25" y="476.3" width="3.9" height="5" fill="#fff" />
<rect x="209.219" y="461.4" width="3.9" height="5" fill="#fff" />
<rect x="209.219" y="476.3" width="3.9" height="5" fill="#fff" />
<rect x="215.188" y="461.4" width="3.9" height="5" fill="#fff" />
<rect x="215.188" y="476.3" width="3.9" height="5" fill="#fff" />
<rect x="221.158" y="461.4" width="3.9" height="5" fill="#fff" />
<rect x="221.158" y="476.3" width="3.9" height="5" fill="#fff" />
<rect x="227.127" y="461.4" width="3.9" height="5" fill="#fff" />
<rect x="227.127" y="476.3" width="3.9" height="5" fill="#fff" />
<rect x="233.096" y="461.4" width="3.9" height="5" fill="#fff" />
<rect x="233.096" y="476.3" width="3.9" height="5" fill="#fff" />
<rect x="239.065" y="461.4" width="3.9" height="5" fill="#fff" />
<rect x="239.065" y="476.3" width="3.9" height="5" fill="#fff" />
<rect x="245.035" y="461.4" width="3.9" height="5" fill="#fff" />
<rect x="245.035" y="476.3" width="3.9" height="5" fill="#fff" />
<rect x="251.004" y="461.4" width="3.9" height="5" fill="#fff" />
<rect x="251.004" y="476.3" width="3.9" height="5" fill="#fff" />
<rect x="256.973" y="461.4" width="3.9" height="5" fill="#fff" />
<rect x="256.973" y="476.3" width="3.9" height="5" fill="#fff" />
<rect x="262.942" y="461.4" width="3.9" height="5" fill="#fff" />
<rect x="262.942" y="476.3" width="3.9" height="5" fill="#fff" />
<rect x="268.912" y="461.4" width="3.9" height="5" fill="#fff" />
<rect x="268.912" y="476.3" width="3.9" height="5" fill="#fff" />
<rect x="274.881" y="461.4" width="3.9" height="5" fill="#fff" />
<rect x="274.881" y="476.3" width="3.9" height="5" fill="#fff" />
<rect x="280.85" y="461.4" width="3.9" height="5" fill="#fff" />
<rect x="280.85" y="476.3" width="3.9" height="5" fill="#fff" />
<rect x="205.75" y="468.65" width="72.25" height="4.8" fill="#fff" />
<polygon points="284.7,468.95 282.3,471.25 284.7,473.55" fill="#fff" stroke="none" stroke-width="1" />
<rect x="114" y="492" width="83.5" height="24" fill="#000" />
<rect x="116.25" y="494.1" width="3.9" height="5" fill="#fff" />
<rect x="116.25" y="509.1" width="3.9" height="5" fill="#fff" />
<rect x="122.219" y="494.1" width="3.9" height="5" fill="#fff" />
<rect x="122.219" y="509.1" width="3.9" height="5" fill="#fff" />
<rect x="128.188" y="494.1" width="3.9" height="5" fill="#fff" />
<rect x="128.188" y="509.1" width="3.9" height="5" fill="#fff" />
<rect x="134.158" y="494.1" width="3.9" height="5" fill="#fff" />
<rect x="134.158" y="509.1" width="3.9" height="5" fill="#fff" />
<rect x="140.127" y="494.1" width="3.9" height="5" fill="#fff" />
<rect x="140.127" y="509.1" width="3.9" height="5" fill="#fff" />
<rect x="146.096" y="494.1" width="3.9" height="5" fill="#fff" />
<rect x="146.096" y="509.1" width="3.9" height="5" fill="#fff" />
<rect x="152.065" y="494.1" width="3.9" height="5" fill="#fff" />
<rect x="152.065" y="509.1" width="3.9" height="5" fill="#fff" />
<rect x="158.035" y="494.1" width="3.9" height="5" fill="#fff" />
<rect x="158.035" y="509.1" width="3.9" height="5" fill="#fff" />
<rect x="164.004" y="494.1" width="3.9" height="5" fill="#fff" />
<rect x="164.004" y="509.1" width="3.9" height="5" fill="#fff" />
<rect x="169.973" y="494.1" width="3.9" height="5" fill="#fff" />
<rect x="169.973" y="509.1" width="3.9" height="5" fill="#fff" />
<rect x="175.942" y="494.1" width="3.9" height="5" fill="#fff" />
<rect x="175.942" y="509.1" width="3.9" height="5" fill="#fff" />
<rect x="181.912" y="494.1" width="3.9" height="5" fill="#fff" />
<rect x="181.912" y="509.1" width="3.9" height="5" fill="#fff" />
<rect x="187.881" y="494.1" width="3.9" height="5" fill="#fff" />
<rect x="187.881" y="509.1" width="3.9" height="5" fill="#fff" />
<rect x="193.85" y="494.1" width="3.9" height="5" fill="#fff" />
<rect x="193.85" y="509.1" width="3.9" height="5" fill="#fff" />
<rect x="118.75" y="501.4" width="72.25" height="4.8" fill="#fff" />
<polygon points="197.7,501.7 195.3,504 197.7,506.3" fill="#fff" stroke="none" stroke-width="1" />
<rect x="201" y="492" width="83.5" height="24" fill="#000" />
<rect x="203.25" y="494.1" width="3.9" height="5" fill="#fff" />
<rect x="203.25" y="509.1" width="3.9" height="5" fill="#fff" />
<rect x="209.219" y="494.1" width="3.9" height="5" fill="#fff" />
<rect x="209.219" y="509.1" width="3.9" height="5" fill="#fff" />
<rect x="215.188" y="494.1" width="3.9" height="5" fill="#fff" />
<rect x="215.188" y="509.1" width="3.9" height="5" fill="#fff" />
<rect x="221.158" y="494.1" width="3.9" height="5" fill="#fff" />
<rect x="221.158" y="509.1" width="3.9" height="5" fill="#fff" />
<rect x="227.127" y="494.1" width="3.9" height="5" fill="#fff" />
<rect x="227.127" y="509.1" width="3.9" height="5" fill="#fff" />
<rect x="233.096" y="494.1" width="3.9" height="5" fill="#fff" />
<rect x="233.096" y="509.1" width="3.9" height="5" fill="#fff" />
<rect x="239.065" y="494.1" width="3.9" height="5" fill="#fff" />
<rect x="239.065" y="509.1" width="3.9" height="5" fill="#fff" />
<rect x="245.035" y="494.1" width="3.9" height="5" fill="#fff" />
<rect x="245.035" y="509.1" width="3.9" height="5" fill="#fff" />
<rect x="251.004" y="494.1" width="3.9" height="5" fill="#fff" />
<rect x="251.004" y="509.1" width="3.9" height="5" fill="#fff" />
<rect x="256.973" y="494.1" width="3.9" height="5" fill="#fff" />
<rect x="256.973" y="509.1" width="3.9" height="5" fill="#fff" />
<rect x="262.942" y="494.1" width="3.9" height="5" fill="#fff" />
<rect x="262.942" y="509.1" width="3.9" height="5" fill="#fff" />
<rect x="268.912" y="494.1" width="3.9" height="5" fill="#fff" />
<rect x="268.912" y="509.1" width="3.9" height="5" fill="#fff" />
<rect x="274.881" y="494.1" width="3.9" height="5" fill="#fff" />
<rect x="274.881" y="509.1" width="3.9" height="5" fill="#fff" />
<rect x="280.85" y="494.1" width="3.9" height="5" fill="#fff" />
<rect x="280.85" y="509.1" width="3.9" height="5" fill="#fff" />
<rect x="205.75" y="501.4" width="72.25" height="4.8" fill="#fff" />
<polygon points="284.7,501.7 282.3,504 284.7,506.3" fill="#fff" stroke="none" stroke-width="1" />
<rect x="152.5" y="405" width="4.5" height="16" fill="#000" />
<rect x="239" y="405" width="4.5" height="16" fill="#000" />
<rect x="151.5" y="499" width="4.5" height="10" fill="#000" />
<rect x="239.3" y="499" width="4.5" height="10" fill="#000" />
<rect x="146.3" y="418.8" width="18.3" height="74.2" fill="#000" />
<rect x="147.3" y="419.8" width="15.7" height="71.6" fill="#fff" />
<text transform="translate(154.65,429.5) scale(0.85,1)" font-size="12" text-anchor="middle" fill="#000">B</text>
<text transform="translate(154.65,446.5) scale(0.85,1)" font-size="12" text-anchor="middle" fill="#000">A</text>
<text transform="translate(154.65,459.5) scale(0.85,1)" font-size="12" text-anchor="middle" fill="#000">N</text>
<text transform="translate(154.65,473.5) scale(0.85,1)" font-size="12" text-anchor="middle" fill="#000">K</text>
<text transform="translate(154.65,489.3) scale(0.85,1)" font-size="12" text-anchor="middle" fill="#000">0</text>
<rect x="235.5" y="420.5" width="17" height="72.5" fill="#000" />
<rect x="236.5" y="421.5" width="14.4" height="69.9" fill="#fff" />
<text transform="translate(243.2,431.7) scale(0.85,1)" font-size="12" text-anchor="middle" fill="#000">B</text>
<text transform="translate(243.2,448) scale(0.85,1)" font-size="12" text-anchor="middle" fill="#000">A</text>
<text transform="translate(243.2,460.5) scale(0.85,1)" font-size="12" text-anchor="middle" fill="#000">N</text>
<text transform="translate(243.2,474.3) scale(0.85,1)" font-size="12" text-anchor="middle" fill="#000">K</text>
<text transform="translate(243.2,489.5) scale(0.85,1)" font-size="12" text-anchor="middle" fill="#000">1</text>
<rect x="176" y="410.6" width="47.5" height="16.4" rx="3.5" fill="#000" class="aa"/>
<rect x="177.7" y="412.3" width="43.5" height="12.3" rx="2.1" fill="#fff" class="aa"/>
<text transform="translate(198.85,422.683) scale(0.85,1)" font-size="12.3" letter-spacing="2" text-anchor="middle" fill="#000"  >CACHE</text>
<polygon points="286.8,8 306.8,8 306.8,12 303.3,12 303.3,22 314,22 314,271 303.3,271 303.3,280.5 306.8,280.5 306.8,285 286.8,285 286.8,282 283.8,282 283.8,271 294,271 294,22.5 283.8,22.5 283.8,11 286.8,11" fill="#000" stroke="none" stroke-width="1" />
<rect x="296" y="30.2" width="2" height="1.6" fill="#fff" />
<rect x="299" y="30.2" width="2" height="1.6" fill="#fff" />
<rect x="296" y="33.4" width="2" height="1.6" fill="#fff" />
<rect x="299" y="33.4" width="2" height="1.6" fill="#fff" />
<rect x="296" y="36.6" width="2" height="1.6" fill="#fff" />
<rect x="299" y="36.6" width="2" height="1.6" fill="#fff" />
<rect x="296" y="39.8" width="2" height="1.6" fill="#fff" />
<rect x="299" y="39.8" width="2" height="1.6" fill="#fff" />
<rect x="296" y="43" width="2" height="1.6" fill="#fff" />
<rect x="299" y="43" width="2" height="1.6" fill="#fff" />
<rect x="296" y="46.2" width="2" height="1.6" fill="#fff" />
<rect x="299" y="46.2" width="2" height="1.6" fill="#fff" />
<rect x="296" y="49.4" width="2" height="1.6" fill="#fff" />
<rect x="299" y="49.4" width="2" height="1.6" fill="#fff" />
<rect x="296" y="52.6" width="2" height="1.6" fill="#fff" />
<rect x="299" y="52.6" width="2" height="1.6" fill="#fff" />
<rect x="296" y="55.8" width="2" height="1.6" fill="#fff" />
<rect x="299" y="55.8" width="2" height="1.6" fill="#fff" />
<rect x="296" y="59" width="2" height="1.6" fill="#fff" />
<rect x="299" y="59" width="2" height="1.6" fill="#fff" />
<rect x="296" y="62.2" width="2" height="1.6" fill="#fff" />
<rect x="299" y="62.2" width="2" height="1.6" fill="#fff" />
<rect x="296" y="65.4" width="2" height="1.6" fill="#fff" />
<rect x="299" y="65.4" width="2" height="1.6" fill="#fff" />
<rect x="296" y="68.6" width="2" height="1.6" fill="#fff" />
<rect x="299" y="68.6" width="2" height="1.6" fill="#fff" />
<rect x="296" y="71.8" width="2" height="1.6" fill="#fff" />
<rect x="299" y="71.8" width="2" height="1.6" fill="#fff" />
<rect x="296" y="75" width="2" height="1.6" fill="#fff" />
<rect x="299" y="75" width="2" height="1.6" fill="#fff" />
<rect x="296" y="78.2" width="2" height="1.6" fill="#fff" />
<rect x="299" y="78.2" width="2" height="1.6" fill="#fff" />
<rect x="296" y="81.4" width="2" height="1.6" fill="#fff" />
<rect x="299" y="81.4" width="2" height="1.6" fill="#fff" />
<rect x="296" y="84.6" width="2" height="1.6" fill="#fff" />
<rect x="299" y="84.6" width="2" height="1.6" fill="#fff" />
<rect x="296" y="87.8" width="2" height="1.6" fill="#fff" />
<rect x="299" y="87.8" width="2" height="1.6" fill="#fff" />
<rect x="296" y="91" width="2" height="1.6" fill="#fff" />
<rect x="299" y="91" width="2" height="1.6" fill="#fff" />
<rect x="296" y="94.2" width="2" height="1.6" fill="#fff" />
<rect x="299" y="94.2" width="2" height="1.6" fill="#fff" />
<rect x="296" y="97.4" width="2" height="1.6" fill="#fff" />
<rect x="299" y="97.4" width="2" height="1.6" fill="#fff" />
<rect x="296" y="100.6" width="2" height="1.6" fill="#fff" />
<rect x="299" y="100.6" width="2" height="1.6" fill="#fff" />
<rect x="296" y="103.8" width="2" height="1.6" fill="#fff" />
<rect x="299" y="103.8" width="2" height="1.6" fill="#fff" />
<rect x="296" y="184.5" width="2" height="1.6" fill="#fff" />
<rect x="299" y="184.5" width="2" height="1.6" fill="#fff" />
<rect x="296" y="187.7" width="2" height="1.6" fill="#fff" />
<rect x="299" y="187.7" width="2" height="1.6" fill="#fff" />
<rect x="296" y="190.9" width="2" height="1.6" fill="#fff" />
<rect x="299" y="190.9" width="2" height="1.6" fill="#fff" />
<rect x="296" y="194.1" width="2" height="1.6" fill="#fff" />
<rect x="299" y="194.1" width="2" height="1.6" fill="#fff" />
<rect x="296" y="197.3" width="2" height="1.6" fill="#fff" />
<rect x="299" y="197.3" width="2" height="1.6" fill="#fff" />
<rect x="296" y="200.5" width="2" height="1.6" fill="#fff" />
<rect x="299" y="200.5" width="2" height="1.6" fill="#fff" />
<rect x="296" y="203.7" width="2" height="1.6" fill="#fff" />
<rect x="299" y="203.7" width="2" height="1.6" fill="#fff" />
<rect x="296" y="206.9" width="2" height="1.6" fill="#fff" />
<rect x="299" y="206.9" width="2" height="1.6" fill="#fff" />
<rect x="296" y="210.1" width="2" height="1.6" fill="#fff" />
<rect x="299" y="210.1" width="2" height="1.6" fill="#fff" />
<rect x="296" y="213.3" width="2" height="1.6" fill="#fff" />
<rect x="299" y="213.3" width="2" height="1.6" fill="#fff" />
<rect x="296" y="216.5" width="2" height="1.6" fill="#fff" />
<rect x="299" y="216.5" width="2" height="1.6" fill="#fff" />
<rect x="296" y="219.7" width="2" height="1.6" fill="#fff" />
<rect x="299" y="219.7" width="2" height="1.6" fill="#fff" />
<rect x="296" y="222.9" width="2" height="1.6" fill="#fff" />
<rect x="299" y="222.9" width="2" height="1.6" fill="#fff" />
<rect x="296" y="226.1" width="2" height="1.6" fill="#fff" />
<rect x="299" y="226.1" width="2" height="1.6" fill="#fff" />
<rect x="296" y="229.3" width="2" height="1.6" fill="#fff" />
<rect x="299" y="229.3" width="2" height="1.6" fill="#fff" />
<rect x="296" y="232.5" width="2" height="1.6" fill="#fff" />
<rect x="299" y="232.5" width="2" height="1.6" fill="#fff" />
<rect x="296" y="235.7" width="2" height="1.6" fill="#fff" />
<rect x="299" y="235.7" width="2" height="1.6" fill="#fff" />
<rect x="296" y="238.9" width="2" height="1.6" fill="#fff" />
<rect x="299" y="238.9" width="2" height="1.6" fill="#fff" />
<rect x="296" y="242.1" width="2" height="1.6" fill="#fff" />
<rect x="299" y="242.1" width="2" height="1.6" fill="#fff" />
<rect x="296" y="245.3" width="2" height="1.6" fill="#fff" />
<rect x="299" y="245.3" width="2" height="1.6" fill="#fff" />
<rect x="296" y="248.5" width="2" height="1.6" fill="#fff" />
<rect x="299" y="248.5" width="2" height="1.6" fill="#fff" />
<rect x="296" y="251.7" width="2" height="1.6" fill="#fff" />
<rect x="299" y="251.7" width="2" height="1.6" fill="#fff" />
<rect x="296" y="254.9" width="2" height="1.6" fill="#fff" />
<rect x="299" y="254.9" width="2" height="1.6" fill="#fff" />
<rect x="296" y="258.1" width="2" height="1.6" fill="#fff" />
<rect x="299" y="258.1" width="2" height="1.6" fill="#fff" />
<rect x="296" y="261.3" width="2" height="1.6" fill="#fff" />
<rect x="299" y="261.3" width="2" height="1.6" fill="#fff" />
<rect x="297" y="110" width="15" height="72.4" fill="#fff" />
<rect x="297.9" y="110" width="1" height="71.6" fill="#000" />
<rect x="298" y="180.6" width="14" height="1" fill="#000" />
<text transform="translate(303.8,121.3) scale(0.85,1)" font-size="12" text-anchor="middle" fill="#000">B</text>
<text transform="translate(303.8,136.7) scale(0.85,1)" font-size="12" text-anchor="middle" fill="#000">A</text>
<text transform="translate(303.8,150.7) scale(0.85,1)" font-size="12" text-anchor="middle" fill="#000">N</text>
<text transform="translate(303.8,165.7) scale(0.85,1)" font-size="12" text-anchor="middle" fill="#000">K</text>
<text transform="translate(303.8,179.9) scale(0.85,1)" font-size="12" text-anchor="middle" fill="#000">0</text>
<polygon points="328.6,8 348.6,8 348.6,12 345.1,12 345.1,22 355,22 355,271 345.1,271 345.1,280.5 348.6,280.5 348.6,285 328.6,285 328.6,282 325.6,282 325.6,271 334.7,271 334.7,22.5 325.6,22.5 325.6,11 328.6,11" fill="#000" stroke="none" stroke-width="1" />
<rect x="336" y="30.2" width="2" height="1.6" fill="#fff" />
<rect x="339" y="30.2" width="2" height="1.6" fill="#fff" />
<rect x="336" y="33.4" width="2" height="1.6" fill="#fff" />
<rect x="339" y="33.4" width="2" height="1.6" fill="#fff" />
<rect x="336" y="36.6" width="2" height="1.6" fill="#fff" />
<rect x="339" y="36.6" width="2" height="1.6" fill="#fff" />
<rect x="336" y="39.8" width="2" height="1.6" fill="#fff" />
<rect x="339" y="39.8" width="2" height="1.6" fill="#fff" />
<rect x="336" y="43" width="2" height="1.6" fill="#fff" />
<rect x="339" y="43" width="2" height="1.6" fill="#fff" />
<rect x="336" y="46.2" width="2" height="1.6" fill="#fff" />
<rect x="339" y="46.2" width="2" height="1.6" fill="#fff" />
<rect x="336" y="49.4" width="2" height="1.6" fill="#fff" />
<rect x="339" y="49.4" width="2" height="1.6" fill="#fff" />
<rect x="336" y="52.6" width="2" height="1.6" fill="#fff" />
<rect x="339" y="52.6" width="2" height="1.6" fill="#fff" />
<rect x="336" y="55.8" width="2" height="1.6" fill="#fff" />
<rect x="339" y="55.8" width="2" height="1.6" fill="#fff" />
<rect x="336" y="59" width="2" height="1.6" fill="#fff" />
<rect x="339" y="59" width="2" height="1.6" fill="#fff" />
<rect x="336" y="62.2" width="2" height="1.6" fill="#fff" />
<rect x="339" y="62.2" width="2" height="1.6" fill="#fff" />
<rect x="336" y="65.4" width="2" height="1.6" fill="#fff" />
<rect x="339" y="65.4" width="2" height="1.6" fill="#fff" />
<rect x="336" y="68.6" width="2" height="1.6" fill="#fff" />
<rect x="339" y="68.6" width="2" height="1.6" fill="#fff" />
<rect x="336" y="71.8" width="2" height="1.6" fill="#fff" />
<rect x="339" y="71.8" width="2" height="1.6" fill="#fff" />
<rect x="336" y="75" width="2" height="1.6" fill="#fff" />
<rect x="339" y="75" width="2" height="1.6" fill="#fff" />
<rect x="336" y="78.2" width="2" height="1.6" fill="#fff" />
<rect x="339" y="78.2" width="2" height="1.6" fill="#fff" />
<rect x="336" y="81.4" width="2" height="1.6" fill="#fff" />
<rect x="339" y="81.4" width="2" height="1.6" fill="#fff" />
<rect x="336" y="84.6" width="2" height="1.6" fill="#fff" />
<rect x="339" y="84.6" width="2" height="1.6" fill="#fff" />
<rect x="336" y="87.8" width="2" height="1.6" fill="#fff" />
<rect x="339" y="87.8" width="2" height="1.6" fill="#fff" />
<rect x="336" y="91" width="2" height="1.6" fill="#fff" />
<rect x="339" y="91" width="2" height="1.6" fill="#fff" />
<rect x="336" y="94.2" width="2" height="1.6" fill="#fff" />
<rect x="339" y="94.2" width="2" height="1.6" fill="#fff" />
<rect x="336" y="97.4" width="2" height="1.6" fill="#fff" />
<rect x="339" y="97.4" width="2" height="1.6" fill="#fff" />
<rect x="336" y="100.6" width="2" height="1.6" fill="#fff" />
<rect x="339" y="100.6" width="2" height="1.6" fill="#fff" />
<rect x="336" y="103.8" width="2" height="1.6" fill="#fff" />
<rect x="339" y="103.8" width="2" height="1.6" fill="#fff" />
<rect x="336" y="184.5" width="2" height="1.6" fill="#fff" />
<rect x="339" y="184.5" width="2" height="1.6" fill="#fff" />
<rect x="336" y="187.7" width="2" height="1.6" fill="#fff" />
<rect x="339" y="187.7" width="2" height="1.6" fill="#fff" />
<rect x="336" y="190.9" width="2" height="1.6" fill="#fff" />
<rect x="339" y="190.9" width="2" height="1.6" fill="#fff" />
<rect x="336" y="194.1" width="2" height="1.6" fill="#fff" />
<rect x="339" y="194.1" width="2" height="1.6" fill="#fff" />
<rect x="336" y="197.3" width="2" height="1.6" fill="#fff" />
<rect x="339" y="197.3" width="2" height="1.6" fill="#fff" />
<rect x="336" y="200.5" width="2" height="1.6" fill="#fff" />
<rect x="339" y="200.5" width="2" height="1.6" fill="#fff" />
<rect x="336" y="203.7" width="2" height="1.6" fill="#fff" />
<rect x="339" y="203.7" width="2" height="1.6" fill="#fff" />
<rect x="336" y="206.9" width="2" height="1.6" fill="#fff" />
<rect x="339" y="206.9" width="2" height="1.6" fill="#fff" />
<rect x="336" y="210.1" width="2" height="1.6" fill="#fff" />
<rect x="339" y="210.1" width="2" height="1.6" fill="#fff" />
<rect x="336" y="213.3" width="2" height="1.6" fill="#fff" />
<rect x="339" y="213.3" width="2" height="1.6" fill="#fff" />
<rect x="336" y="216.5" width="2" height="1.6" fill="#fff" />
<rect x="339" y="216.5" width="2" height="1.6" fill="#fff" />
<rect x="336" y="219.7" width="2" height="1.6" fill="#fff" />
<rect x="339" y="219.7" width="2" height="1.6" fill="#fff" />
<rect x="336" y="222.9" width="2" height="1.6" fill="#fff" />
<rect x="339" y="222.9" width="2" height="1.6" fill="#fff" />
<rect x="336" y="226.1" width="2" height="1.6" fill="#fff" />
<rect x="339" y="226.1" width="2" height="1.6" fill="#fff" />
<rect x="336" y="229.3" width="2" height="1.6" fill="#fff" />
<rect x="339" y="229.3" width="2" height="1.6" fill="#fff" />
<rect x="336" y="232.5" width="2" height="1.6" fill="#fff" />
<rect x="339" y="232.5" width="2" height="1.6" fill="#fff" />
<rect x="336" y="235.7" width="2" height="1.6" fill="#fff" />
<rect x="339" y="235.7" width="2" height="1.6" fill="#fff" />
<rect x="336" y="238.9" width="2" height="1.6" fill="#fff" />
<rect x="339" y="238.9" width="2" height="1.6" fill="#fff" />
<rect x="336" y="242.1" width="2" height="1.6" fill="#fff" />
<rect x="339" y="242.1" width="2" height="1.6" fill="#fff" />
<rect x="336" y="245.3" width="2" height="1.6" fill="#fff" />
<rect x="339" y="245.3" width="2" height="1.6" fill="#fff" />
<rect x="336" y="248.5" width="2" height="1.6" fill="#fff" />
<rect x="339" y="248.5" width="2" height="1.6" fill="#fff" />
<rect x="336" y="251.7" width="2" height="1.6" fill="#fff" />
<rect x="339" y="251.7" width="2" height="1.6" fill="#fff" />
<rect x="336" y="254.9" width="2" height="1.6" fill="#fff" />
<rect x="339" y="254.9" width="2" height="1.6" fill="#fff" />
<rect x="336" y="258.1" width="2" height="1.6" fill="#fff" />
<rect x="339" y="258.1" width="2" height="1.6" fill="#fff" />
<rect x="336" y="261.3" width="2" height="1.6" fill="#fff" />
<rect x="339" y="261.3" width="2" height="1.6" fill="#fff" />
<rect x="338" y="110" width="15" height="72.4" fill="#fff" />
<rect x="338.9" y="110" width="1" height="71.6" fill="#000" />
<rect x="339" y="180.6" width="14" height="1" fill="#000" />
<text transform="translate(344.8,121.3) scale(0.85,1)" font-size="12" text-anchor="middle" fill="#000">B</text>
<text transform="translate(344.8,136.7) scale(0.85,1)" font-size="12" text-anchor="middle" fill="#000">A</text>
<text transform="translate(344.8,150.7) scale(0.85,1)" font-size="12" text-anchor="middle" fill="#000">N</text>
<text transform="translate(344.8,165.7) scale(0.85,1)" font-size="12" text-anchor="middle" fill="#000">K</text>
<text transform="translate(344.8,179.9) scale(0.85,1)" font-size="12" text-anchor="middle" fill="#000">1</text>
<polygon points="365.7,8 385.7,8 385.7,12 382.2,12 382.2,22 392.7,22 392.7,271 382.2,271 382.2,280.5 385.7,280.5 385.7,285 365.7,285 365.7,282 362.7,282 362.7,271 372.5,271 372.5,22.5 362.7,22.5 362.7,11 365.7,11" fill="#000" stroke="none" stroke-width="1" />
<rect x="374" y="30.2" width="2" height="1.6" fill="#fff" />
<rect x="377" y="30.2" width="2" height="1.6" fill="#fff" />
<rect x="374" y="33.4" width="2" height="1.6" fill="#fff" />
<rect x="377" y="33.4" width="2" height="1.6" fill="#fff" />
<rect x="374" y="36.6" width="2" height="1.6" fill="#fff" />
<rect x="377" y="36.6" width="2" height="1.6" fill="#fff" />
<rect x="374" y="39.8" width="2" height="1.6" fill="#fff" />
<rect x="377" y="39.8" width="2" height="1.6" fill="#fff" />
<rect x="374" y="43" width="2" height="1.6" fill="#fff" />
<rect x="377" y="43" width="2" height="1.6" fill="#fff" />
<rect x="374" y="46.2" width="2" height="1.6" fill="#fff" />
<rect x="377" y="46.2" width="2" height="1.6" fill="#fff" />
<rect x="374" y="49.4" width="2" height="1.6" fill="#fff" />
<rect x="377" y="49.4" width="2" height="1.6" fill="#fff" />
<rect x="374" y="52.6" width="2" height="1.6" fill="#fff" />
<rect x="377" y="52.6" width="2" height="1.6" fill="#fff" />
<rect x="374" y="55.8" width="2" height="1.6" fill="#fff" />
<rect x="377" y="55.8" width="2" height="1.6" fill="#fff" />
<rect x="374" y="59" width="2" height="1.6" fill="#fff" />
<rect x="377" y="59" width="2" height="1.6" fill="#fff" />
<rect x="374" y="62.2" width="2" height="1.6" fill="#fff" />
<rect x="377" y="62.2" width="2" height="1.6" fill="#fff" />
<rect x="374" y="65.4" width="2" height="1.6" fill="#fff" />
<rect x="377" y="65.4" width="2" height="1.6" fill="#fff" />
<rect x="374" y="68.6" width="2" height="1.6" fill="#fff" />
<rect x="377" y="68.6" width="2" height="1.6" fill="#fff" />
<rect x="374" y="71.8" width="2" height="1.6" fill="#fff" />
<rect x="377" y="71.8" width="2" height="1.6" fill="#fff" />
<rect x="374" y="75" width="2" height="1.6" fill="#fff" />
<rect x="377" y="75" width="2" height="1.6" fill="#fff" />
<rect x="374" y="78.2" width="2" height="1.6" fill="#fff" />
<rect x="377" y="78.2" width="2" height="1.6" fill="#fff" />
<rect x="374" y="81.4" width="2" height="1.6" fill="#fff" />
<rect x="377" y="81.4" width="2" height="1.6" fill="#fff" />
<rect x="374" y="84.6" width="2" height="1.6" fill="#fff" />
<rect x="377" y="84.6" width="2" height="1.6" fill="#fff" />
<rect x="374" y="87.8" width="2" height="1.6" fill="#fff" />
<rect x="377" y="87.8" width="2" height="1.6" fill="#fff" />
<rect x="374" y="91" width="2" height="1.6" fill="#fff" />
<rect x="377" y="91" width="2" height="1.6" fill="#fff" />
<rect x="374" y="94.2" width="2" height="1.6" fill="#fff" />
<rect x="377" y="94.2" width="2" height="1.6" fill="#fff" />
<rect x="374" y="97.4" width="2" height="1.6" fill="#fff" />
<rect x="377" y="97.4" width="2" height="1.6" fill="#fff" />
<rect x="374" y="100.6" width="2" height="1.6" fill="#fff" />
<rect x="377" y="100.6" width="2" height="1.6" fill="#fff" />
<rect x="374" y="103.8" width="2" height="1.6" fill="#fff" />
<rect x="377" y="103.8" width="2" height="1.6" fill="#fff" />
<rect x="374" y="184.5" width="2" height="1.6" fill="#fff" />
<rect x="377" y="184.5" width="2" height="1.6" fill="#fff" />
<rect x="374" y="187.7" width="2" height="1.6" fill="#fff" />
<rect x="377" y="187.7" width="2" height="1.6" fill="#fff" />
<rect x="374" y="190.9" width="2" height="1.6" fill="#fff" />
<rect x="377" y="190.9" width="2" height="1.6" fill="#fff" />
<rect x="374" y="194.1" width="2" height="1.6" fill="#fff" />
<rect x="377" y="194.1" width="2" height="1.6" fill="#fff" />
<rect x="374" y="197.3" width="2" height="1.6" fill="#fff" />
<rect x="377" y="197.3" width="2" height="1.6" fill="#fff" />
<rect x="374" y="200.5" width="2" height="1.6" fill="#fff" />
<rect x="377" y="200.5" width="2" height="1.6" fill="#fff" />
<rect x="374" y="203.7" width="2" height="1.6" fill="#fff" />
<rect x="377" y="203.7" width="2" height="1.6" fill="#fff" />
<rect x="374" y="206.9" width="2" height="1.6" fill="#fff" />
<rect x="377" y="206.9" width="2" height="1.6" fill="#fff" />
<rect x="374" y="210.1" width="2" height="1.6" fill="#fff" />
<rect x="377" y="210.1" width="2" height="1.6" fill="#fff" />
<rect x="374" y="213.3" width="2" height="1.6" fill="#fff" />
<rect x="377" y="213.3" width="2" height="1.6" fill="#fff" />
<rect x="374" y="216.5" width="2" height="1.6" fill="#fff" />
<rect x="377" y="216.5" width="2" height="1.6" fill="#fff" />
<rect x="374" y="219.7" width="2" height="1.6" fill="#fff" />
<rect x="377" y="219.7" width="2" height="1.6" fill="#fff" />
<rect x="374" y="222.9" width="2" height="1.6" fill="#fff" />
<rect x="377" y="222.9" width="2" height="1.6" fill="#fff" />
<rect x="374" y="226.1" width="2" height="1.6" fill="#fff" />
<rect x="377" y="226.1" width="2" height="1.6" fill="#fff" />
<rect x="374" y="229.3" width="2" height="1.6" fill="#fff" />
<rect x="377" y="229.3" width="2" height="1.6" fill="#fff" />
<rect x="374" y="232.5" width="2" height="1.6" fill="#fff" />
<rect x="377" y="232.5" width="2" height="1.6" fill="#fff" />
<rect x="374" y="235.7" width="2" height="1.6" fill="#fff" />
<rect x="377" y="235.7" width="2" height="1.6" fill="#fff" />
<rect x="374" y="238.9" width="2" height="1.6" fill="#fff" />
<rect x="377" y="238.9" width="2" height="1.6" fill="#fff" />
<rect x="374" y="242.1" width="2" height="1.6" fill="#fff" />
<rect x="377" y="242.1" width="2" height="1.6" fill="#fff" />
<rect x="374" y="245.3" width="2" height="1.6" fill="#fff" />
<rect x="377" y="245.3" width="2" height="1.6" fill="#fff" />
<rect x="374" y="248.5" width="2" height="1.6" fill="#fff" />
<rect x="377" y="248.5" width="2" height="1.6" fill="#fff" />
<rect x="374" y="251.7" width="2" height="1.6" fill="#fff" />
<rect x="377" y="251.7" width="2" height="1.6" fill="#fff" />
<rect x="374" y="254.9" width="2" height="1.6" fill="#fff" />
<rect x="377" y="254.9" width="2" height="1.6" fill="#fff" />
<rect x="374" y="258.1" width="2" height="1.6" fill="#fff" />
<rect x="377" y="258.1" width="2" height="1.6" fill="#fff" />
<rect x="374" y="261.3" width="2" height="1.6" fill="#fff" />
<rect x="377" y="261.3" width="2" height="1.6" fill="#fff" />
<rect x="375.7" y="110" width="15" height="72.4" fill="#fff" />
<rect x="376.6" y="110" width="1" height="71.6" fill="#000" />
<rect x="376.7" y="180.6" width="14" height="1" fill="#000" />
<text transform="translate(382.5,121.3) scale(0.85,1)" font-size="12" text-anchor="middle" fill="#000">B</text>
<text transform="translate(382.5,136.7) scale(0.85,1)" font-size="12" text-anchor="middle" fill="#000">A</text>
<text transform="translate(382.5,150.7) scale(0.85,1)" font-size="12" text-anchor="middle" fill="#000">N</text>
<text transform="translate(382.5,165.7) scale(0.85,1)" font-size="12" text-anchor="middle" fill="#000">K</text>
<text transform="translate(382.5,179.9) scale(0.85,1)" font-size="12" text-anchor="middle" fill="#000">2</text>
<polygon points="402.9,8 422.9,8 422.9,12 419.4,12 419.4,22 429.6,22 429.6,271 419.4,271 419.4,280.5 422.9,280.5 422.9,285 402.9,285 402.9,282 399.9,282 399.9,271 409.7,271 409.7,22.5 399.9,22.5 399.9,11 402.9,11" fill="#000" stroke="none" stroke-width="1" />
<rect x="411" y="30.2" width="2" height="1.6" fill="#fff" />
<rect x="414" y="30.2" width="2" height="1.6" fill="#fff" />
<rect x="411" y="33.4" width="2" height="1.6" fill="#fff" />
<rect x="414" y="33.4" width="2" height="1.6" fill="#fff" />
<rect x="411" y="36.6" width="2" height="1.6" fill="#fff" />
<rect x="414" y="36.6" width="2" height="1.6" fill="#fff" />
<rect x="411" y="39.8" width="2" height="1.6" fill="#fff" />
<rect x="414" y="39.8" width="2" height="1.6" fill="#fff" />
<rect x="411" y="43" width="2" height="1.6" fill="#fff" />
<rect x="414" y="43" width="2" height="1.6" fill="#fff" />
<rect x="411" y="46.2" width="2" height="1.6" fill="#fff" />
<rect x="414" y="46.2" width="2" height="1.6" fill="#fff" />
<rect x="411" y="49.4" width="2" height="1.6" fill="#fff" />
<rect x="414" y="49.4" width="2" height="1.6" fill="#fff" />
<rect x="411" y="52.6" width="2" height="1.6" fill="#fff" />
<rect x="414" y="52.6" width="2" height="1.6" fill="#fff" />
<rect x="411" y="55.8" width="2" height="1.6" fill="#fff" />
<rect x="414" y="55.8" width="2" height="1.6" fill="#fff" />
<rect x="411" y="59" width="2" height="1.6" fill="#fff" />
<rect x="414" y="59" width="2" height="1.6" fill="#fff" />
<rect x="411" y="62.2" width="2" height="1.6" fill="#fff" />
<rect x="414" y="62.2" width="2" height="1.6" fill="#fff" />
<rect x="411" y="65.4" width="2" height="1.6" fill="#fff" />
<rect x="414" y="65.4" width="2" height="1.6" fill="#fff" />
<rect x="411" y="68.6" width="2" height="1.6" fill="#fff" />
<rect x="414" y="68.6" width="2" height="1.6" fill="#fff" />
<rect x="411" y="71.8" width="2" height="1.6" fill="#fff" />
<rect x="414" y="71.8" width="2" height="1.6" fill="#fff" />
<rect x="411" y="75" width="2" height="1.6" fill="#fff" />
<rect x="414" y="75" width="2" height="1.6" fill="#fff" />
<rect x="411" y="78.2" width="2" height="1.6" fill="#fff" />
<rect x="414" y="78.2" width="2" height="1.6" fill="#fff" />
<rect x="411" y="81.4" width="2" height="1.6" fill="#fff" />
<rect x="414" y="81.4" width="2" height="1.6" fill="#fff" />
<rect x="411" y="84.6" width="2" height="1.6" fill="#fff" />
<rect x="414" y="84.6" width="2" height="1.6" fill="#fff" />
<rect x="411" y="87.8" width="2" height="1.6" fill="#fff" />
<rect x="414" y="87.8" width="2" height="1.6" fill="#fff" />
<rect x="411" y="91" width="2" height="1.6" fill="#fff" />
<rect x="414" y="91" width="2" height="1.6" fill="#fff" />
<rect x="411" y="94.2" width="2" height="1.6" fill="#fff" />
<rect x="414" y="94.2" width="2" height="1.6" fill="#fff" />
<rect x="411" y="97.4" width="2" height="1.6" fill="#fff" />
<rect x="414" y="97.4" width="2" height="1.6" fill="#fff" />
<rect x="411" y="100.6" width="2" height="1.6" fill="#fff" />
<rect x="414" y="100.6" width="2" height="1.6" fill="#fff" />
<rect x="411" y="103.8" width="2" height="1.6" fill="#fff" />
<rect x="414" y="103.8" width="2" height="1.6" fill="#fff" />
<rect x="411" y="184.5" width="2" height="1.6" fill="#fff" />
<rect x="414" y="184.5" width="2" height="1.6" fill="#fff" />
<rect x="411" y="187.7" width="2" height="1.6" fill="#fff" />
<rect x="414" y="187.7" width="2" height="1.6" fill="#fff" />
<rect x="411" y="190.9" width="2" height="1.6" fill="#fff" />
<rect x="414" y="190.9" width="2" height="1.6" fill="#fff" />
<rect x="411" y="194.1" width="2" height="1.6" fill="#fff" />
<rect x="414" y="194.1" width="2" height="1.6" fill="#fff" />
<rect x="411" y="197.3" width="2" height="1.6" fill="#fff" />
<rect x="414" y="197.3" width="2" height="1.6" fill="#fff" />
<rect x="411" y="200.5" width="2" height="1.6" fill="#fff" />
<rect x="414" y="200.5" width="2" height="1.6" fill="#fff" />
<rect x="411" y="203.7" width="2" height="1.6" fill="#fff" />
<rect x="414" y="203.7" width="2" height="1.6" fill="#fff" />
<rect x="411" y="206.9" width="2" height="1.6" fill="#fff" />
<rect x="414" y="206.9" width="2" height="1.6" fill="#fff" />
<rect x="411" y="210.1" width="2" height="1.6" fill="#fff" />
<rect x="414" y="210.1" width="2" height="1.6" fill="#fff" />
<rect x="411" y="213.3" width="2" height="1.6" fill="#fff" />
<rect x="414" y="213.3" width="2" height="1.6" fill="#fff" />
<rect x="411" y="216.5" width="2" height="1.6" fill="#fff" />
<rect x="414" y="216.5" width="2" height="1.6" fill="#fff" />
<rect x="411" y="219.7" width="2" height="1.6" fill="#fff" />
<rect x="414" y="219.7" width="2" height="1.6" fill="#fff" />
<rect x="411" y="222.9" width="2" height="1.6" fill="#fff" />
<rect x="414" y="222.9" width="2" height="1.6" fill="#fff" />
<rect x="411" y="226.1" width="2" height="1.6" fill="#fff" />
<rect x="414" y="226.1" width="2" height="1.6" fill="#fff" />
<rect x="411" y="229.3" width="2" height="1.6" fill="#fff" />
<rect x="414" y="229.3" width="2" height="1.6" fill="#fff" />
<rect x="411" y="232.5" width="2" height="1.6" fill="#fff" />
<rect x="414" y="232.5" width="2" height="1.6" fill="#fff" />
<rect x="411" y="235.7" width="2" height="1.6" fill="#fff" />
<rect x="414" y="235.7" width="2" height="1.6" fill="#fff" />
<rect x="411" y="238.9" width="2" height="1.6" fill="#fff" />
<rect x="414" y="238.9" width="2" height="1.6" fill="#fff" />
<rect x="411" y="242.1" width="2" height="1.6" fill="#fff" />
<rect x="414" y="242.1" width="2" height="1.6" fill="#fff" />
<rect x="411" y="245.3" width="2" height="1.6" fill="#fff" />
<rect x="414" y="245.3" width="2" height="1.6" fill="#fff" />
<rect x="411" y="248.5" width="2" height="1.6" fill="#fff" />
<rect x="414" y="248.5" width="2" height="1.6" fill="#fff" />
<rect x="411" y="251.7" width="2" height="1.6" fill="#fff" />
<rect x="414" y="251.7" width="2" height="1.6" fill="#fff" />
<rect x="411" y="254.9" width="2" height="1.6" fill="#fff" />
<rect x="414" y="254.9" width="2" height="1.6" fill="#fff" />
<rect x="411" y="258.1" width="2" height="1.6" fill="#fff" />
<rect x="414" y="258.1" width="2" height="1.6" fill="#fff" />
<rect x="411" y="261.3" width="2" height="1.6" fill="#fff" />
<rect x="414" y="261.3" width="2" height="1.6" fill="#fff" />
<rect x="412.6" y="110" width="15" height="72.4" fill="#fff" />
<rect x="413.5" y="110" width="1" height="71.6" fill="#000" />
<rect x="413.6" y="180.6" width="14" height="1" fill="#000" />
<text transform="translate(419.4,121.3) scale(0.85,1)" font-size="12" text-anchor="middle" fill="#000">B</text>
<text transform="translate(419.4,136.7) scale(0.85,1)" font-size="12" text-anchor="middle" fill="#000">A</text>
<text transform="translate(419.4,150.7) scale(0.85,1)" font-size="12" text-anchor="middle" fill="#000">N</text>
<text transform="translate(419.4,165.7) scale(0.85,1)" font-size="12" text-anchor="middle" fill="#000">K</text>
<text transform="translate(419.4,179.9) scale(0.85,1)" font-size="12" text-anchor="middle" fill="#000">3</text>
<rect x="256" y="306" width="176.5" height="18" fill="#000" />
<rect x="262" y="312.4" width="24.5" height="5.6" fill="#fff" />
<rect x="292" y="312.4" width="33" height="5.6" fill="#fff" />
<rect x="357" y="312.4" width="70.5" height="5.6" fill="#fff" />
<rect x="326" y="307.2" width="28" height="14.4" fill="#fff" />
<text transform="translate(340.3,319.4) scale(0.85,1)" font-size="12.5" letter-spacing="1.18" text-anchor="middle" fill="#000"  >SL2</text>
<rect x="507.5" y="304.5" width="176.5" height="19.5" fill="#000" />
<rect x="513" y="311" width="24.5" height="6" fill="#fff" />
<rect x="542.5" y="311" width="44.5" height="6" fill="#fff" />
<rect x="621" y="311" width="58.5" height="6" fill="#fff" />
<rect x="590" y="306" width="27.5" height="15" fill="#fff" />
<text transform="translate(604.2,318.4) scale(0.85,1)" font-size="12.5" letter-spacing="1.18" text-anchor="middle" fill="#000"  >SL1</text>
<rect x="204" y="313.6" width="36.3" height="16.9" rx="3.5" fill="#000" class="aa"/>
<rect x="205.7" y="315.3" width="32.3" height="12.8" rx="2.1" fill="#fff" class="aa"/>
<text transform="translate(221.25,326.188) scale(0.85,1)" font-size="13" letter-spacing="1.53" text-anchor="middle" fill="#000"  >JL1</text>
<rect x="255.2" y="326.2" width="19.3" height="5.3" fill="#000" />
<rect x="260.1" y="327.2" width="2.1" height="3.3" fill="#fff" />
<rect x="266.1" y="327.2" width="7.5" height="3.3" fill="#fff" />
<rect x="268.5" y="327.2" width="3.8" height="3.3" fill="#000" />
<rect x="269.6" y="328.1" width="1.9" height="1.5" fill="#fff" />
<line x1="255.5" y1="328.8" x2="247" y2="324.5" stroke="#000" stroke-width="2.2" class="aa"/>
<polygon points="247.5,325 238.5,318.5 238.5,327.5" fill="#fff" stroke="none" stroke-width="1" />
<line x1="248" y1="325" x2="239.5" y2="318" stroke="#000" stroke-width="1.5" class="aa"/>
<line x1="248" y1="325" x2="239.5" y2="327.5" stroke="#000" stroke-width="1.5" class="aa"/>
<rect x="204" y="333" width="36.3" height="16.3" rx="3.5" fill="#000" class="aa"/>
<rect x="205.7" y="334.7" width="32.3" height="12.2" rx="2.1" fill="#fff" class="aa"/>
<text transform="translate(221.25,345.288) scale(0.85,1)" font-size="13" letter-spacing="1.53" text-anchor="middle" fill="#000"  >JL2</text>
<rect x="255.2" y="338" width="19.3" height="5.3" fill="#000" />
<rect x="260.1" y="339" width="2.1" height="3.3" fill="#fff" />
<rect x="266.1" y="339" width="7.5" height="3.3" fill="#fff" />
<rect x="268.5" y="339" width="3.8" height="3.3" fill="#000" />
<rect x="269.6" y="339.9" width="1.9" height="1.5" fill="#fff" />
<line x1="255.2" y1="340.7" x2="247.7" y2="340.7" stroke="#000" stroke-width="1.8" />
<polygon points="249.7,340.7 237.3,337.7 237.3,343.7" fill="#fff" stroke="none" stroke-width="1" />
<line x1="249.7" y1="340.7" x2="239.4" y2="338" stroke="#000" stroke-width="2.3" class="aa" stroke-linecap="round"/>
<line x1="249.7" y1="340.7" x2="239.4" y2="343.4" stroke="#000" stroke-width="2.3" class="aa" stroke-linecap="round"/>
<rect x="215" y="351.4" width="25.3" height="15.6" rx="3.5" fill="#000" class="aa"/>
<rect x="216.7" y="353.1" width="21.3" height="11.5" rx="2.1" fill="#fff" class="aa"/>
<text transform="translate(226.75,363.338) scale(0.85,1)" font-size="13" letter-spacing="1.53" text-anchor="middle" fill="#000"  >J2</text>
<rect x="255.2" y="349.6" width="19.3" height="5.6" fill="#000" />
<rect x="260.1" y="350.6" width="2.1" height="3.6" fill="#fff" />
<rect x="266.1" y="350.6" width="7.5" height="3.6" fill="#fff" />
<rect x="268.5" y="350.6" width="3.8" height="3.6" fill="#000" />
<rect x="269.6" y="351.5" width="1.9" height="1.8" fill="#fff" />
<line x1="255.5" y1="352.8" x2="247" y2="356" stroke="#000" stroke-width="2.2" class="aa"/>
<polygon points="247.5,356 238.5,354.5 238.5,363" fill="#fff" stroke="none" stroke-width="1" />
<line x1="248" y1="356" x2="239.5" y2="354" stroke="#000" stroke-width="1.5" class="aa"/>
<line x1="248" y1="356" x2="239.5" y2="363.5" stroke="#000" stroke-width="1.5" class="aa"/>
<rect x="277.2" y="349.6" width="19.2" height="5.6" fill="#000" />
<rect x="282.1" y="350.6" width="2.1" height="3.6" fill="#fff" />
<rect x="288.1" y="350.6" width="7.4" height="3.6" fill="#fff" />
<rect x="290.5" y="350.6" width="3.8" height="3.6" fill="#000" />
<rect x="291.6" y="351.5" width="1.9" height="1.8" fill="#fff" />
<rect x="310.5" y="343.6" width="35.7" height="16.8" rx="3.5" fill="#000" class="aa"/>
<rect x="312.2" y="345.3" width="31.7" height="12.7" rx="2.1" fill="#fff" class="aa"/>
<text transform="translate(327.45,356.138) scale(0.85,1)" font-size="13" letter-spacing="1.53" text-anchor="middle" fill="#000"  >JX4</text>
<line x1="296.4" y1="352.4" x2="302.9" y2="352.4" stroke="#000" stroke-width="1.8" />
<polygon points="300.9,352.4 312.8,349.4 312.8,355.4" fill="#fff" stroke="none" stroke-width="1" />
<line x1="300.9" y1="352.4" x2="311.4" y2="349.7" stroke="#000" stroke-width="2.3" class="aa" stroke-linecap="round"/>
<line x1="300.9" y1="352.4" x2="311.4" y2="355.1" stroke="#000" stroke-width="2.3" class="aa" stroke-linecap="round"/>
<polygon points="366,332 411,332 414,335 414,379 411,382 366,382 363,379 363,335" fill="#000" stroke="none" stroke-width="1" class="aa"/>
<polygon points="404.5,374 408,374 406.2,377" fill="#fff" stroke="none" stroke-width="1" class="aa"/>
<rect x="346" y="386.2" width="13" height="118.5" fill="#000" />
<rect x="347" y="387.2" width="11" height="116.5" fill="#fff" />
<rect x="347.8" y="388.1" width="4.3" height="4.665" fill="#000" />
<rect x="353.1" y="388.1" width="4.3" height="4.665" fill="#000" />
<rect x="347.8" y="393.865" width="4.3" height="4.665" fill="#000" />
<rect x="353.1" y="393.865" width="4.3" height="4.665" fill="#000" />
<rect x="347.8" y="399.63" width="4.3" height="4.665" fill="#000" />
<rect x="353.1" y="399.63" width="4.3" height="4.665" fill="#000" />
<rect x="347.8" y="405.395" width="4.3" height="4.665" fill="#000" />
<rect x="353.1" y="405.395" width="4.3" height="4.665" fill="#000" />
<rect x="347.8" y="411.16" width="4.3" height="4.665" fill="#000" />
<rect x="353.1" y="411.16" width="4.3" height="4.665" fill="#000" />
<rect x="347.8" y="416.925" width="4.3" height="4.665" fill="#000" />
<rect x="353.1" y="416.925" width="4.3" height="4.665" fill="#000" />
<rect x="347.8" y="422.69" width="4.3" height="4.665" fill="#000" />
<rect x="353.1" y="422.69" width="4.3" height="4.665" fill="#000" />
<rect x="347.8" y="428.455" width="4.3" height="4.665" fill="#000" />
<rect x="353.1" y="428.455" width="4.3" height="4.665" fill="#000" />
<rect x="347.8" y="434.22" width="4.3" height="4.665" fill="#000" />
<rect x="353.1" y="434.22" width="4.3" height="4.665" fill="#000" />
<rect x="347.8" y="439.985" width="4.3" height="4.665" fill="#000" />
<rect x="353.1" y="439.985" width="4.3" height="4.665" fill="#000" />
<rect x="347.8" y="445.75" width="4.3" height="4.665" fill="#000" />
<rect x="353.1" y="445.75" width="4.3" height="4.665" fill="#000" />
<rect x="347.8" y="451.515" width="4.3" height="4.665" fill="#000" />
<rect x="353.1" y="451.515" width="4.3" height="4.665" fill="#000" />
<rect x="347.8" y="457.28" width="4.3" height="4.665" fill="#000" />
<rect x="353.1" y="457.28" width="4.3" height="4.665" fill="#000" />
<rect x="347.8" y="463.045" width="4.3" height="4.665" fill="#000" />
<rect x="353.1" y="463.045" width="4.3" height="4.665" fill="#000" />
<rect x="347.8" y="468.81" width="4.3" height="4.665" fill="#000" />
<rect x="353.1" y="468.81" width="4.3" height="4.665" fill="#000" />
<rect x="347.8" y="474.575" width="4.3" height="4.665" fill="#000" />
<rect x="353.1" y="474.575" width="4.3" height="4.665" fill="#000" />
<rect x="347.8" y="480.34" width="4.3" height="4.665" fill="#000" />
<rect x="353.1" y="480.34" width="4.3" height="4.665" fill="#000" />
<rect x="347.8" y="486.105" width="4.3" height="4.665" fill="#000" />
<rect x="353.1" y="486.105" width="4.3" height="4.665" fill="#000" />
<rect x="347.8" y="491.87" width="4.3" height="4.665" fill="#000" />
<rect x="353.1" y="491.87" width="4.3" height="4.665" fill="#000" />
<rect x="347.8" y="497.635" width="4.3" height="4.665" fill="#000" />
<rect x="353.1" y="497.635" width="4.3" height="4.665" fill="#000" />
<rect x="354.1" y="498.635" width="2.3" height="2.665" fill="#fff" />
<rect x="409" y="404" width="13" height="100.7" fill="#000" />
<rect x="410" y="405" width="11" height="98.7" fill="#fff" />
<rect x="410.8" y="405.9" width="4.3" height="4.63529" fill="#000" />
<rect x="416.1" y="405.9" width="4.3" height="4.63529" fill="#000" />
<rect x="410.8" y="411.635" width="4.3" height="4.63529" fill="#000" />
<rect x="416.1" y="411.635" width="4.3" height="4.63529" fill="#000" />
<rect x="410.8" y="417.371" width="4.3" height="4.63529" fill="#000" />
<rect x="416.1" y="417.371" width="4.3" height="4.63529" fill="#000" />
<rect x="410.8" y="423.106" width="4.3" height="4.63529" fill="#000" />
<rect x="416.1" y="423.106" width="4.3" height="4.63529" fill="#000" />
<rect x="410.8" y="428.841" width="4.3" height="4.63529" fill="#000" />
<rect x="416.1" y="428.841" width="4.3" height="4.63529" fill="#000" />
<rect x="410.8" y="434.576" width="4.3" height="4.63529" fill="#000" />
<rect x="416.1" y="434.576" width="4.3" height="4.63529" fill="#000" />
<rect x="410.8" y="440.312" width="4.3" height="4.63529" fill="#000" />
<rect x="416.1" y="440.312" width="4.3" height="4.63529" fill="#000" />
<rect x="410.8" y="446.047" width="4.3" height="4.63529" fill="#000" />
<rect x="416.1" y="446.047" width="4.3" height="4.63529" fill="#000" />
<rect x="410.8" y="451.782" width="4.3" height="4.63529" fill="#000" />
<rect x="416.1" y="451.782" width="4.3" height="4.63529" fill="#000" />
<rect x="410.8" y="457.518" width="4.3" height="4.63529" fill="#000" />
<rect x="416.1" y="457.518" width="4.3" height="4.63529" fill="#000" />
<rect x="410.8" y="463.253" width="4.3" height="4.63529" fill="#000" />
<rect x="416.1" y="463.253" width="4.3" height="4.63529" fill="#000" />
<rect x="410.8" y="468.988" width="4.3" height="4.63529" fill="#000" />
<rect x="416.1" y="468.988" width="4.3" height="4.63529" fill="#000" />
<rect x="410.8" y="474.724" width="4.3" height="4.63529" fill="#000" />
<rect x="416.1" y="474.724" width="4.3" height="4.63529" fill="#000" />
<rect x="410.8" y="480.459" width="4.3" height="4.63529" fill="#000" />
<rect x="416.1" y="480.459" width="4.3" height="4.63529" fill="#000" />
<rect x="410.8" y="486.194" width="4.3" height="4.63529" fill="#000" />
<rect x="416.1" y="486.194" width="4.3" height="4.63529" fill="#000" />
<rect x="410.8" y="491.929" width="4.3" height="4.63529" fill="#000" />
<rect x="416.1" y="491.929" width="4.3" height="4.63529" fill="#000" />
<rect x="410.8" y="497.665" width="4.3" height="4.63529" fill="#000" />
<rect x="416.1" y="497.665" width="4.3" height="4.63529" fill="#000" />
<rect x="417.1" y="498.665" width="2.3" height="2.63529" fill="#fff" />
<rect x="289.5" y="434" width="41" height="17" rx="3.5" fill="#000" class="aa"/>
<rect x="291.2" y="435.7" width="37" height="12.9" rx="2.1" fill="#fff" class="aa"/>
<text transform="translate(309.1,446.638) scale(0.85,1)" font-size="13" letter-spacing="1.53" text-anchor="middle" fill="#000"  >CN10</text>
<line x1="346" y1="442.5" x2="339.5" y2="442.5" stroke="#000" stroke-width="1.8" />
<polygon points="341.5,442.5 327.5,439.5 327.5,445.5" fill="#fff" stroke="none" stroke-width="1" />
<line x1="341.5" y1="442.5" x2="329.6" y2="439.8" stroke="#000" stroke-width="2.3" class="aa" stroke-linecap="round"/>
<line x1="341.5" y1="442.5" x2="329.6" y2="445.2" stroke="#000" stroke-width="2.3" class="aa" stroke-linecap="round"/>
<rect x="437.5" y="446.6" width="35.5" height="18" rx="3.5" fill="#000" class="aa"/>
<rect x="439.2" y="448.3" width="31.5" height="13.9" rx="2.1" fill="#fff" class="aa"/>
<text transform="translate(454.35,459.738) scale(0.85,1)" font-size="13" letter-spacing="1.53" text-anchor="middle" fill="#000"  >CN9</text>
<line x1="422" y1="455.5" x2="428.5" y2="455.5" stroke="#000" stroke-width="1.8" />
<polygon points="426.5,455.5 439.8,452.5 439.8,458.5" fill="#fff" stroke="none" stroke-width="1" />
<line x1="426.5" y1="455.5" x2="438.4" y2="452.8" stroke="#000" stroke-width="2.3" class="aa" stroke-linecap="round"/>
<line x1="426.5" y1="455.5" x2="438.4" y2="458.2" stroke="#000" stroke-width="2.3" class="aa" stroke-linecap="round"/>
<rect x="360.8" y="408.8" width="7.2" height="14.2" fill="#000" />
<rect x="361.8" y="409.8" width="5.2" height="12.2" fill="#fff" />
<rect x="363" y="410.9" width="5" height="3.8" fill="#000" />
<rect x="363" y="417.1" width="5" height="3.8" fill="#000" />
<rect x="384" y="407.5" width="24" height="17" rx="3.5" fill="#000" class="aa"/>
<rect x="385.7" y="409.2" width="20" height="12.9" rx="2.1" fill="#fff" class="aa"/>
<text transform="translate(395.1,420.138) scale(0.85,1)" font-size="13" letter-spacing="1.53" text-anchor="middle" fill="#000"  >J6</text>
<line x1="367.5" y1="415.7" x2="375" y2="415.7" stroke="#000" stroke-width="1.8" />
<polygon points="373,415.7 386.3,412.7 386.3,418.7" fill="#fff" stroke="none" stroke-width="1" />
<line x1="373" y1="415.7" x2="384.9" y2="413" stroke="#000" stroke-width="2.3" class="aa" stroke-linecap="round"/>
<line x1="373" y1="415.7" x2="384.9" y2="418.4" stroke="#000" stroke-width="2.3" class="aa" stroke-linecap="round"/>
<rect x="360.8" y="436.8" width="7.2" height="14.2" fill="#000" />
<rect x="361.8" y="437.8" width="5.2" height="12.2" fill="#fff" />
<rect x="363" y="438.9" width="5" height="3.8" fill="#000" />
<rect x="363" y="445.1" width="5" height="3.8" fill="#000" />
<rect x="384" y="434.5" width="24" height="17" rx="3.5" fill="#000" class="aa"/>
<rect x="385.7" y="436.2" width="20" height="12.9" rx="2.1" fill="#fff" class="aa"/>
<text transform="translate(395.1,447.138) scale(0.85,1)" font-size="13" letter-spacing="1.53" text-anchor="middle" fill="#000"  >J5</text>
<line x1="367.5" y1="443.7" x2="375" y2="443.7" stroke="#000" stroke-width="1.8" />
<polygon points="373,443.7 386.3,440.7 386.3,446.7" fill="#fff" stroke="none" stroke-width="1" />
<line x1="373" y1="443.7" x2="384.9" y2="441" stroke="#000" stroke-width="2.3" class="aa" stroke-linecap="round"/>
<line x1="373" y1="443.7" x2="384.9" y2="446.4" stroke="#000" stroke-width="2.3" class="aa" stroke-linecap="round"/>
<rect x="360.8" y="464.3" width="7.2" height="14.2" fill="#000" />
<rect x="361.8" y="465.3" width="5.2" height="12.2" fill="#fff" />
<rect x="363" y="466.4" width="5" height="3.8" fill="#000" />
<rect x="363" y="472.6" width="5" height="3.8" fill="#000" />
<rect x="384" y="461" width="24" height="17" rx="3.5" fill="#000" class="aa"/>
<rect x="385.7" y="462.7" width="20" height="12.9" rx="2.1" fill="#fff" class="aa"/>
<text transform="translate(395.1,473.638) scale(0.85,1)" font-size="13" letter-spacing="1.53" text-anchor="middle" fill="#000"  >J4</text>
<line x1="367.5" y1="471.2" x2="375" y2="471.2" stroke="#000" stroke-width="1.8" />
<polygon points="373,471.2 386.3,468.2 386.3,474.2" fill="#fff" stroke="none" stroke-width="1" />
<line x1="373" y1="471.2" x2="384.9" y2="468.5" stroke="#000" stroke-width="2.3" class="aa" stroke-linecap="round"/>
<line x1="373" y1="471.2" x2="384.9" y2="473.9" stroke="#000" stroke-width="2.3" class="aa" stroke-linecap="round"/>
<rect x="458" y="18" width="14.5" height="1.1" fill="#000" />
<rect x="481" y="18" width="23.5" height="1.1" fill="#000" />
<rect x="513" y="18" width="23.5" height="1.1" fill="#000" />
<rect x="545" y="18" width="23.5" height="1.1" fill="#000" />
<rect x="577" y="18" width="23.5" height="1.1" fill="#000" />
<rect x="609" y="18" width="15.8" height="1.1" fill="#000" />
<rect x="465" y="146.6" width="23.7" height="1.1" fill="#000" />
<rect x="497.5" y="146.6" width="23.5" height="1.1" fill="#000" />
<rect x="529.5" y="146.6" width="23.5" height="1.1" fill="#000" />
<rect x="561.6" y="146.6" width="23.4" height="1.1" fill="#000" />
<rect x="593.6" y="146.6" width="23.4" height="1.1" fill="#000" />
<rect x="458.2" y="18" width="1.1" height="9" fill="#000" />
<rect x="458.2" y="36" width="1.1" height="24" fill="#000" />
<rect x="458.2" y="68" width="1.1" height="24" fill="#000" />
<rect x="458.2" y="100" width="1.1" height="24" fill="#000" />
<rect x="458.2" y="132" width="1.1" height="15.5" fill="#000" />
<rect x="623.8" y="18" width="1.1" height="17" fill="#000" />
<rect x="623.8" y="43.5" width="1.1" height="23.5" fill="#000" />
<rect x="623.8" y="75.5" width="1.1" height="23.5" fill="#000" />
<rect x="623.8" y="107.5" width="1.1" height="23.5" fill="#000" />
<rect x="623.8" y="139.5" width="1.1" height="7.5" fill="#000" />
<rect x="479" y="34" width="60.5" height="24.5" fill="#000" />
<rect x="481.25" y="36.1" width="3.9" height="5" fill="#fff" />
<rect x="481.25" y="51.6" width="3.9" height="5" fill="#fff" />
<rect x="487.317" y="36.1" width="3.9" height="5" fill="#fff" />
<rect x="487.317" y="51.6" width="3.9" height="5" fill="#fff" />
<rect x="493.383" y="36.1" width="3.9" height="5" fill="#fff" />
<rect x="493.383" y="51.6" width="3.9" height="5" fill="#fff" />
<rect x="499.45" y="36.1" width="3.9" height="5" fill="#fff" />
<rect x="499.45" y="51.6" width="3.9" height="5" fill="#fff" />
<rect x="505.517" y="36.1" width="3.9" height="5" fill="#fff" />
<rect x="505.517" y="51.6" width="3.9" height="5" fill="#fff" />
<rect x="511.583" y="36.1" width="3.9" height="5" fill="#fff" />
<rect x="511.583" y="51.6" width="3.9" height="5" fill="#fff" />
<rect x="517.65" y="36.1" width="3.9" height="5" fill="#fff" />
<rect x="517.65" y="51.6" width="3.9" height="5" fill="#fff" />
<rect x="523.717" y="36.1" width="3.9" height="5" fill="#fff" />
<rect x="523.717" y="51.6" width="3.9" height="5" fill="#fff" />
<rect x="529.783" y="36.1" width="3.9" height="5" fill="#fff" />
<rect x="529.783" y="51.6" width="3.9" height="5" fill="#fff" />
<rect x="535.85" y="36.1" width="3.9" height="5" fill="#fff" />
<rect x="535.85" y="51.6" width="3.9" height="5" fill="#fff" />
<rect x="486" y="43.65" width="20" height="4.8" fill="#fff" />
<polygon points="478.8,43.75 481.5,46.25 478.8,48.75" fill="#fff" stroke="none" stroke-width="1" />
<rect x="547.5" y="34" width="61" height="24.5" fill="#000" />
<rect x="549.75" y="36.1" width="3.9" height="5" fill="#fff" />
<rect x="549.75" y="51.6" width="3.9" height="5" fill="#fff" />
<rect x="555.872" y="36.1" width="3.9" height="5" fill="#fff" />
<rect x="555.872" y="51.6" width="3.9" height="5" fill="#fff" />
<rect x="561.994" y="36.1" width="3.9" height="5" fill="#fff" />
<rect x="561.994" y="51.6" width="3.9" height="5" fill="#fff" />
<rect x="568.117" y="36.1" width="3.9" height="5" fill="#fff" />
<rect x="568.117" y="51.6" width="3.9" height="5" fill="#fff" />
<rect x="574.239" y="36.1" width="3.9" height="5" fill="#fff" />
<rect x="574.239" y="51.6" width="3.9" height="5" fill="#fff" />
<rect x="580.361" y="36.1" width="3.9" height="5" fill="#fff" />
<rect x="580.361" y="51.6" width="3.9" height="5" fill="#fff" />
<rect x="586.483" y="36.1" width="3.9" height="5" fill="#fff" />
<rect x="586.483" y="51.6" width="3.9" height="5" fill="#fff" />
<rect x="592.606" y="36.1" width="3.9" height="5" fill="#fff" />
<rect x="592.606" y="51.6" width="3.9" height="5" fill="#fff" />
<rect x="598.728" y="36.1" width="3.9" height="5" fill="#fff" />
<rect x="598.728" y="51.6" width="3.9" height="5" fill="#fff" />
<rect x="604.85" y="36.1" width="3.9" height="5" fill="#fff" />
<rect x="604.85" y="51.6" width="3.9" height="5" fill="#fff" />
<rect x="582.5" y="43.65" width="21.5" height="4.8" fill="#fff" />
<rect x="539" y="43" width="9" height="7" fill="#000" />
<rect x="517.6" y="38" width="58" height="16.4" rx="2" fill="#000" class="aa"/>
<rect x="519.3" y="39.7" width="54" height="12.3" rx="0.6" fill="#fff" class="aa"/>
<text transform="translate(545.7,50.3385) scale(0.85,1)" font-size="13" letter-spacing="2.71" text-anchor="middle" fill="#000"  >BANK 1</text>
<rect x="515.8" y="75.7" width="61.8" height="17.3" fill="#000" />
<rect x="514.3" y="78.2" width="2" height="12.3" fill="#fff" stroke="#000" stroke-width="1"/>
<rect x="577.1" y="78.2" width="2" height="12.3" fill="#fff" stroke="#000" stroke-width="1"/>
<rect x="513.8" y="79.2" width="3" height="1" fill="#000" />
<rect x="576.6" y="79.2" width="3" height="1" fill="#000" />
<rect x="513.8" y="81.9" width="3" height="1" fill="#000" />
<rect x="576.6" y="81.9" width="3" height="1" fill="#000" />
<rect x="513.8" y="84.6" width="3" height="1" fill="#000" />
<rect x="576.6" y="84.6" width="3" height="1" fill="#000" />
<rect x="513.8" y="87.3" width="3" height="1" fill="#000" />
<rect x="576.6" y="87.3" width="3" height="1" fill="#000" />
<rect x="515.8" y="107.5" width="24.4" height="17.8" fill="#000" />
<rect x="514.3" y="110" width="2" height="12.8" fill="#fff" stroke="#000" stroke-width="1"/>
<rect x="539.7" y="110" width="2" height="12.8" fill="#fff" stroke="#000" stroke-width="1"/>
<rect x="513.8" y="111" width="3" height="1" fill="#000" />
<rect x="539.2" y="111" width="3" height="1" fill="#000" />
<rect x="513.8" y="113.7" width="3" height="1" fill="#000" />
<rect x="539.2" y="113.7" width="3" height="1" fill="#000" />
<rect x="513.8" y="116.4" width="3" height="1" fill="#000" />
<rect x="539.2" y="116.4" width="3" height="1" fill="#000" />
<rect x="513.8" y="119.1" width="3" height="1" fill="#000" />
<rect x="539.2" y="119.1" width="3" height="1" fill="#000" />
<rect x="513.8" y="121.8" width="3" height="1" fill="#000" />
<rect x="539.2" y="121.8" width="3" height="1" fill="#000" />
<rect x="553.4" y="107.5" width="24.2" height="17.8" fill="#000" />
<rect x="551.9" y="110" width="2" height="12.8" fill="#fff" stroke="#000" stroke-width="1"/>
<rect x="577.1" y="110" width="2" height="12.8" fill="#fff" stroke="#000" stroke-width="1"/>
<rect x="551.4" y="111" width="3" height="1" fill="#000" />
<rect x="576.6" y="111" width="3" height="1" fill="#000" />
<rect x="551.4" y="113.7" width="3" height="1" fill="#000" />
<rect x="576.6" y="113.7" width="3" height="1" fill="#000" />
<rect x="551.4" y="116.4" width="3" height="1" fill="#000" />
<rect x="576.6" y="116.4" width="3" height="1" fill="#000" />
<rect x="551.4" y="119.1" width="3" height="1" fill="#000" />
<rect x="576.6" y="119.1" width="3" height="1" fill="#000" />
<rect x="551.4" y="121.8" width="3" height="1" fill="#000" />
<rect x="576.6" y="121.8" width="3" height="1" fill="#000" />
<rect x="542.5" y="77.6" width="9" height="11.7" fill="#fff" />
<rect x="542.5" y="77.6" width="1" height="11.7" fill="#000" />
<rect x="550.5" y="77.6" width="1" height="11.7" fill="#000" />
<rect x="541.5" y="79.5" width="1" height="1.2" fill="#fff" />
<rect x="551.5" y="79.5" width="1" height="1.2" fill="#fff" />
<rect x="541.5" y="82.2" width="1" height="1.2" fill="#fff" />
<rect x="551.5" y="82.2" width="1" height="1.2" fill="#fff" />
<rect x="541.5" y="84.9" width="1" height="1.2" fill="#fff" />
<rect x="551.5" y="84.9" width="1" height="1.2" fill="#fff" />
<rect x="541.5" y="87.6" width="1" height="1.2" fill="#fff" />
<rect x="551.5" y="87.6" width="1" height="1.2" fill="#fff" />
<rect x="518.4" y="60.5" width="50.2" height="15.5" rx="2" fill="#000" class="aa"/>
<rect x="520.1" y="62.2" width="46.2" height="11.4" rx="0.6" fill="#fff" class="aa"/>
<text transform="translate(542.6,72.3885) scale(0.85,1)" font-size="13" letter-spacing="2.12" text-anchor="middle" fill="#000"  >VRAM</text>
<rect x="517" y="92.8" width="58.6" height="14.9" rx="2" fill="#000" class="aa"/>
<rect x="518.7" y="94.5" width="54.6" height="10.8" rx="0.6" fill="#fff" class="aa"/>
<text transform="translate(545.4,104.389) scale(0.85,1)" font-size="13" letter-spacing="2.12" text-anchor="middle" fill="#000"  >BANK 0</text>
<circle cx="529.5" cy="125.6" r="2.6" fill="#fff" class="aa"/>
<circle cx="565.5" cy="125.6" r="2.6" fill="#fff" class="aa"/>
<circle cx="537.2" cy="122.4" r="1.3" fill="#fff" class="aa"/>
<circle cx="574.3" cy="122.4" r="1.3" fill="#fff" class="aa"/>
<text transform="translate(675.2,19.2) scale(0.9,1)" font-size="11" letter-spacing="0" text-anchor="middle" fill="#000"  >MH1943</text>
<polygon points="503,177 547.5,177 550.5,180 550.5,224.5 547.5,227.5 503,227.5 500,224.5 500,180" fill="#000" stroke="none" stroke-width="1" class="aa"/>
<rect x="506.1" y="182.6" width="2.8" height="2.8" fill="#fff" />
<polygon points="634,144 675.5,144 678.5,147 678.5,194 675.5,197 634,197 631,194 631,147" fill="#000" stroke="none" stroke-width="1" class="aa"/>
<rect x="636.4" y="149.8" width="2.8" height="2.8" fill="#fff" />
<polygon points="493,346 534,346 537,349 537,395.5 534,398.5 493,398.5 490,395.5 490,349" fill="#000" stroke="none" stroke-width="1" class="aa"/>
<polygon points="496,356 499.5,356 497.7,352.6" fill="#fff" stroke="none" stroke-width="1" class="aa"/>
<rect x="593" y="211" width="13" height="77.8" fill="#000" />
<rect x="594" y="212" width="11" height="75.8" fill="#fff" />
<rect x="594.8" y="212.9" width="4.3" height="4.63846" fill="#000" />
<rect x="600.1" y="212.9" width="4.3" height="4.63846" fill="#000" />
<rect x="594.8" y="218.638" width="4.3" height="4.63846" fill="#000" />
<rect x="600.1" y="218.638" width="4.3" height="4.63846" fill="#000" />
<rect x="594.8" y="224.377" width="4.3" height="4.63846" fill="#000" />
<rect x="600.1" y="224.377" width="4.3" height="4.63846" fill="#000" />
<rect x="594.8" y="230.115" width="4.3" height="4.63846" fill="#000" />
<rect x="600.1" y="230.115" width="4.3" height="4.63846" fill="#000" />
<rect x="594.8" y="235.854" width="4.3" height="4.63846" fill="#000" />
<rect x="600.1" y="235.854" width="4.3" height="4.63846" fill="#000" />
<rect x="594.8" y="241.592" width="4.3" height="4.63846" fill="#000" />
<rect x="600.1" y="241.592" width="4.3" height="4.63846" fill="#000" />
<rect x="594.8" y="247.331" width="4.3" height="4.63846" fill="#000" />
<rect x="600.1" y="247.331" width="4.3" height="4.63846" fill="#000" />
<rect x="594.8" y="253.069" width="4.3" height="4.63846" fill="#000" />
<rect x="600.1" y="253.069" width="4.3" height="4.63846" fill="#000" />
<rect x="594.8" y="258.808" width="4.3" height="4.63846" fill="#000" />
<rect x="600.1" y="258.808" width="4.3" height="4.63846" fill="#000" />
<rect x="594.8" y="264.546" width="4.3" height="4.63846" fill="#000" />
<rect x="600.1" y="264.546" width="4.3" height="4.63846" fill="#000" />
<rect x="594.8" y="270.285" width="4.3" height="4.63846" fill="#000" />
<rect x="600.1" y="270.285" width="4.3" height="4.63846" fill="#000" />
<rect x="594.8" y="276.023" width="4.3" height="4.63846" fill="#000" />
<rect x="600.1" y="276.023" width="4.3" height="4.63846" fill="#000" />
<rect x="594.8" y="281.762" width="4.3" height="4.63846" fill="#000" />
<rect x="595.8" y="282.762" width="2.3" height="2.63846" fill="#fff" />
<rect x="600.1" y="281.762" width="4.3" height="4.63846" fill="#000" />
<rect x="540.5" y="236" width="35.5" height="18.5" rx="3.5" fill="#000" class="aa"/>
<rect x="542.2" y="237.7" width="31.5" height="14.4" rx="2.1" fill="#fff" class="aa"/>
<text transform="translate(557.35,249.388) scale(0.85,1)" font-size="13" letter-spacing="1.53" text-anchor="middle" fill="#000"  >CN8</text>
<line x1="590" y1="245.5" x2="585.5" y2="245.5" stroke="#000" stroke-width="1.8" />
<polygon points="587.5,245.5 573,242.5 573,248.5" fill="#fff" stroke="none" stroke-width="1" />
<line x1="587.5" y1="245.5" x2="575.1" y2="242.8" stroke="#000" stroke-width="2.3" class="aa" stroke-linecap="round"/>
<line x1="587.5" y1="245.5" x2="575.1" y2="248.2" stroke="#000" stroke-width="2.3" class="aa" stroke-linecap="round"/>
<rect x="631" y="203" width="33.5" height="17.5" rx="3.5" fill="#000" class="aa"/>
<rect x="632.7" y="204.7" width="29.5" height="13.4" rx="2.1" fill="#fff" class="aa"/>
<text transform="translate(646.85,215.888) scale(0.85,1)" font-size="13" letter-spacing="1.53" text-anchor="middle" fill="#000"  >JN6</text>
<line x1="647" y1="238" x2="647" y2="232.5" stroke="#000" stroke-width="1.8" />
<polygon points="647,234.5 644.2,217 649.8,217" fill="#fff" stroke="none" stroke-width="1" />
<line x1="647" y1="234.5" x2="644.5" y2="219.1" stroke="#000" stroke-width="2.3" class="aa" stroke-linecap="round"/>
<line x1="647" y1="234.5" x2="649.5" y2="219.1" stroke="#000" stroke-width="2.3" class="aa" stroke-linecap="round"/>
<rect x="636.9" y="238.1" width="19.2" height="5.7" fill="#000" />
<rect x="641.8" y="239.1" width="2.1" height="3.7" fill="#fff" />
<rect x="647.8" y="239.1" width="7.4" height="3.7" fill="#fff" />
<rect x="650.2" y="239.1" width="3.8" height="3.7" fill="#000" />
<rect x="651.3" y="240" width="1.9" height="1.9" fill="#fff" />
<rect x="636.9" y="248.3" width="19.2" height="5.7" fill="#000" />
<rect x="641.8" y="249.3" width="2.1" height="3.7" fill="#fff" />
<rect x="647.8" y="249.3" width="7.4" height="3.7" fill="#fff" />
<rect x="650.2" y="249.3" width="3.8" height="3.7" fill="#000" />
<rect x="651.3" y="250.2" width="1.9" height="1.9" fill="#fff" />
<rect x="636.9" y="260.2" width="19.2" height="5.8" fill="#000" />
<rect x="641.8" y="261.2" width="2.1" height="3.8" fill="#fff" />
<rect x="647.8" y="261.2" width="7.4" height="3.8" fill="#fff" />
<rect x="650.2" y="261.2" width="3.8" height="3.8" fill="#000" />
<rect x="651.3" y="262.1" width="1.9" height="2" fill="#fff" />
<rect x="636.9" y="258" width="19.2" height="2.4" fill="#000" />
<rect x="637.9" y="259.2" width="17.2" height="1.1" fill="#fff" />
<rect x="671" y="242.5" width="36.5" height="17" rx="3.5" fill="#000" class="aa"/>
<rect x="672.7" y="244.2" width="32.5" height="12.9" rx="2.1" fill="#fff" class="aa"/>
<text transform="translate(688.35,255.138) scale(0.85,1)" font-size="13" letter-spacing="1.53" text-anchor="middle" fill="#000"  >JN8</text>
<line x1="655.5" y1="251" x2="662" y2="251" stroke="#000" stroke-width="1.8" />
<polygon points="660,251 673.3,248 673.3,254" fill="#fff" stroke="none" stroke-width="1" />
<line x1="660" y1="251" x2="671.9" y2="248.3" stroke="#000" stroke-width="2.3" class="aa" stroke-linecap="round"/>
<line x1="660" y1="251" x2="671.9" y2="253.7" stroke="#000" stroke-width="2.3" class="aa" stroke-linecap="round"/>
<rect x="630" y="282.5" width="33.5" height="18" rx="3.5" fill="#000" class="aa"/>
<rect x="631.7" y="284.2" width="29.5" height="13.9" rx="2.1" fill="#fff" class="aa"/>
<text transform="translate(645.85,295.638) scale(0.85,1)" font-size="13" letter-spacing="1.53" text-anchor="middle" fill="#000"  >JN7</text>
<line x1="646" y1="265" x2="646" y2="271.5" stroke="#000" stroke-width="1.8" />
<polygon points="646,269.5 643.2,285.3 648.8,285.3" fill="#fff" stroke="none" stroke-width="1" />
<line x1="646" y1="269.5" x2="643.5" y2="283.9" stroke="#000" stroke-width="2.3" class="aa" stroke-linecap="round"/>
<line x1="646" y1="269.5" x2="648.5" y2="283.9" stroke="#000" stroke-width="2.3" class="aa" stroke-linecap="round"/>
<rect x="484.1" y="254.2" width="14.1" height="6.7" fill="#000" />
<rect x="485.1" y="255.3" width="1.4" height="4.5" fill="#fff" />
<rect x="489.8" y="255.3" width="1.6" height="4.5" fill="#fff" />
<rect x="495.6" y="255.3" width="1.6" height="4.5" fill="#fff" />
<rect x="474.2" y="276.8" width="33.6" height="19" rx="3.5" fill="#000" class="aa"/>
<rect x="475.9" y="278.5" width="29.6" height="14.9" rx="2.1" fill="#fff" class="aa"/>
<text transform="translate(490.1,290.438) scale(0.85,1)" font-size="13" letter-spacing="1.53" text-anchor="middle" fill="#000"  >JV2</text>
<line x1="491" y1="260.5" x2="491" y2="269" stroke="#000" stroke-width="1.8" />
<polygon points="491,267 488.2,279.3 493.8,279.3" fill="#fff" stroke="none" stroke-width="1" />
<line x1="491" y1="267" x2="488.5" y2="277.9" stroke="#000" stroke-width="2.3" class="aa" stroke-linecap="round"/>
<line x1="491" y1="267" x2="493.5" y2="277.9" stroke="#000" stroke-width="2.3" class="aa" stroke-linecap="round"/>
<rect x="513.8" y="259.1" width="7.3" height="12.5" fill="#000" />
<rect x="515" y="260.3" width="5" height="2.2" fill="#fff" />
<rect x="515" y="263.6" width="5" height="1.4" fill="#fff" />
<rect x="515" y="263.6" width="1.4" height="2.4" fill="#fff" />
<rect x="536" y="256" width="35.5" height="19" rx="3.5" fill="#000" class="aa"/>
<rect x="537.7" y="257.7" width="31.5" height="14.9" rx="2.1" fill="#fff" class="aa"/>
<text transform="translate(552.85,269.638) scale(0.85,1)" font-size="13" letter-spacing="1.53" text-anchor="middle" fill="#000"  >JV1</text>
<line x1="521" y1="265.5" x2="527.5" y2="265.5" stroke="#000" stroke-width="1.8" />
<polygon points="525.5,265.5 538.3,262.5 538.3,268.5" fill="#fff" stroke="none" stroke-width="1" />
<line x1="525.5" y1="265.5" x2="536.9" y2="262.8" stroke="#000" stroke-width="2.3" class="aa" stroke-linecap="round"/>
<line x1="525.5" y1="265.5" x2="536.9" y2="268.2" stroke="#000" stroke-width="2.3" class="aa" stroke-linecap="round"/>
<rect x="521" y="332.3" width="19" height="6.3" fill="#000" />
<rect x="525.9" y="333.3" width="2.1" height="4.3" fill="#fff" />
<rect x="531.9" y="333.3" width="7.2" height="4.3" fill="#fff" />
<rect x="534.3" y="333.3" width="3.8" height="4.3" fill="#000" />
<rect x="535.4" y="334.2" width="1.9" height="2.5" fill="#fff" />
<rect x="522" y="333.4" width="17" height="0.9" fill="#fff" />
<rect x="555" y="327.2" width="36" height="18" rx="3.5" fill="#000" class="aa"/>
<rect x="556.7" y="328.9" width="32" height="13.9" rx="2.1" fill="#fff" class="aa"/>
<text transform="translate(572.1,340.338) scale(0.85,1)" font-size="13" letter-spacing="1.53" text-anchor="middle" fill="#000"  >JD3</text>
<line x1="540" y1="335.8" x2="546.5" y2="335.8" stroke="#000" stroke-width="1.8" />
<polygon points="544.5,335.8 557.3,332.8 557.3,338.8" fill="#fff" stroke="none" stroke-width="1" />
<line x1="544.5" y1="335.8" x2="555.9" y2="333.1" stroke="#000" stroke-width="2.3" class="aa" stroke-linecap="round"/>
<line x1="544.5" y1="335.8" x2="555.9" y2="338.5" stroke="#000" stroke-width="2.3" class="aa" stroke-linecap="round"/>
<rect x="581" y="346" width="88.3" height="41.8" fill="#000" />
<line x1="584" y1="386.4" x2="667" y2="386.4" stroke="#fff" stroke-width="1" stroke-dasharray="3.6,2.2"/>
<rect x="603.5" y="359" width="43.8" height="18" rx="2" fill="#000" class="aa"/>
<rect x="605.2" y="360.7" width="39.8" height="13.9" rx="0.6" fill="#fff" class="aa"/>
<text transform="translate(624.5,372.138) scale(0.85,1)" font-size="13" letter-spacing="1.76" text-anchor="middle" fill="#000"  >BIOS</text>
<rect x="694.4" y="350.2" width="6.4" height="13.4" fill="#000" />
<rect x="695.4" y="351.5" width="4.4" height="1.2" fill="#fff" />
<rect x="695.4" y="356.3" width="4.4" height="1.2" fill="#fff" />
<rect x="695.4" y="361.1" width="4.4" height="1.2" fill="#fff" />
<rect x="685.3" y="379.2" width="25.3" height="18" rx="3.5" fill="#000" class="aa"/>
<rect x="687" y="380.9" width="21.3" height="13.9" rx="2.1" fill="#fff" class="aa"/>
<text transform="translate(697.05,392.338) scale(0.85,1)" font-size="13" letter-spacing="1.53" text-anchor="middle" fill="#000"  >J3</text>
<line x1="697.6" y1="363.5" x2="697.6" y2="371" stroke="#000" stroke-width="1.8" />
<polygon points="697.6,369 694.8,381.8 700.4,381.8" fill="#fff" stroke="none" stroke-width="1" />
<line x1="697.6" y1="369" x2="695.1" y2="380.4" stroke="#000" stroke-width="2.3" class="aa" stroke-linecap="round"/>
<line x1="697.6" y1="369" x2="700.1" y2="380.4" stroke="#000" stroke-width="2.3" class="aa" stroke-linecap="round"/>
<rect x="636" y="391.2" width="6.6" height="13.3" fill="#000" />
<rect x="637" y="392.5" width="4.6" height="1.2" fill="#fff" />
<rect x="637" y="397.25" width="4.6" height="1.2" fill="#fff" />
<rect x="637" y="402" width="4.6" height="1.2" fill="#fff" />
<rect x="657.3" y="389.5" width="25.9" height="17.9" rx="3.5" fill="#000" class="aa"/>
<rect x="659" y="391.2" width="21.9" height="13.8" rx="2.1" fill="#fff" class="aa"/>
<text transform="translate(669.35,402.588) scale(0.85,1)" font-size="13" letter-spacing="1.53" text-anchor="middle" fill="#000"  >J1</text>
<line x1="642.6" y1="398" x2="649.1" y2="398" stroke="#000" stroke-width="1.8" />
<polygon points="647.1,398 659.6,395 659.6,401" fill="#fff" stroke="none" stroke-width="1" />
<line x1="647.1" y1="398" x2="658.2" y2="395.3" stroke="#000" stroke-width="2.3" class="aa" stroke-linecap="round"/>
<line x1="647.1" y1="398" x2="658.2" y2="400.7" stroke="#000" stroke-width="2.3" class="aa" stroke-linecap="round"/>
<rect x="623.9" y="410" width="6.5" height="13.6" fill="#000" />
<rect x="624.9" y="411.3" width="4.5" height="1.2" fill="#fff" />
<rect x="624.9" y="416.2" width="4.5" height="1.2" fill="#fff" />
<rect x="624.9" y="421.1" width="4.5" height="1.2" fill="#fff" />
<rect x="646" y="409.1" width="25.8" height="17.2" rx="3.5" fill="#000" class="aa"/>
<rect x="647.7" y="410.8" width="21.8" height="13.1" rx="2.1" fill="#fff" class="aa"/>
<text transform="translate(658,421.839) scale(0.85,1)" font-size="13" letter-spacing="1.53" text-anchor="middle" fill="#000"  >J7</text>
<line x1="630.4" y1="417.5" x2="636.9" y2="417.5" stroke="#000" stroke-width="1.8" />
<polygon points="634.9,417.5 648.3,414.5 648.3,420.5" fill="#fff" stroke="none" stroke-width="1" />
<line x1="634.9" y1="417.5" x2="646.9" y2="414.8" stroke="#000" stroke-width="2.3" class="aa" stroke-linecap="round"/>
<line x1="634.9" y1="417.5" x2="646.9" y2="420.2" stroke="#000" stroke-width="2.3" class="aa" stroke-linecap="round"/>
<rect x="537.6" y="401.6" width="34.4" height="16.6" rx="3.5" fill="#000" class="aa"/>
<rect x="539.3" y="403.3" width="30.4" height="12.5" rx="2.1" fill="#fff" class="aa"/>
<text transform="translate(553.9,414.038) scale(0.85,1)" font-size="13" letter-spacing="1.53" text-anchor="middle" fill="#000"  >JX3</text>
<rect x="588.2" y="407.7" width="13.8" height="6.4" fill="#000" />
<rect x="589.2" y="408.8" width="11.8" height="4.2" fill="#fff" />
<rect x="590.4" y="409.8" width="4" height="3.2" fill="#000" />
<rect x="595.8" y="409.8" width="4" height="3.2" fill="#000" />
<line x1="588" y1="410.5" x2="580.5" y2="410.5" stroke="#000" stroke-width="1.8" />
<polygon points="582.5,410.5 569,407.5 569,413.5" fill="#fff" stroke="none" stroke-width="1" />
<line x1="582.5" y1="410.5" x2="571.1" y2="407.8" stroke="#000" stroke-width="2.3" class="aa" stroke-linecap="round"/>
<line x1="582.5" y1="410.5" x2="571.1" y2="413.2" stroke="#000" stroke-width="2.3" class="aa" stroke-linecap="round"/>
<rect x="498.7" y="420.5" width="6.8" height="17.7" fill="#fff" stroke="#000" stroke-width="1"/>
<rect x="499.2" y="421.6" width="5.2" height="4.56667" fill="#000" />
<rect x="499.2" y="427.167" width="5.2" height="4.56667" fill="#000" />
<rect x="500.2" y="433.333" width="3.6" height="3.36667" fill="#fff" stroke="#000" stroke-width="1"/>
<rect x="514.5" y="420.5" width="6.8" height="17.7" fill="#fff" stroke="#000" stroke-width="1"/>
<rect x="515" y="421.6" width="5.2" height="4.56667" fill="#000" />
<rect x="515" y="427.167" width="5.2" height="4.56667" fill="#000" />
<rect x="516" y="433.333" width="3.6" height="3.36667" fill="#fff" stroke="#000" stroke-width="1"/>
<rect x="529.7" y="420.5" width="6.6" height="17.7" fill="#fff" stroke="#000" stroke-width="1"/>
<rect x="530.2" y="421.6" width="5" height="4.56667" fill="#000" />
<rect x="530.2" y="427.167" width="5" height="4.56667" fill="#000" />
<rect x="531.2" y="433.333" width="3.4" height="3.36667" fill="#fff" stroke="#000" stroke-width="1"/>
<rect x="447.3" y="421.2" width="35.3" height="18.4" rx="3.5" fill="#000" class="aa"/>
<rect x="449" y="422.9" width="31.3" height="14.3" rx="2.1" fill="#fff" class="aa"/>
<text transform="translate(464.05,434.538) scale(0.85,1)" font-size="13" letter-spacing="1.53" text-anchor="middle" fill="#000"  >JD2</text>
<line x1="498.2" y1="430.5" x2="490.7" y2="430.5" stroke="#000" stroke-width="1.8" />
<polygon points="492.7,430.5 479.6,427.5 479.6,433.5" fill="#fff" stroke="none" stroke-width="1" />
<line x1="492.7" y1="430.5" x2="481.7" y2="427.8" stroke="#000" stroke-width="2.3" class="aa" stroke-linecap="round"/>
<line x1="492.7" y1="430.5" x2="481.7" y2="433.2" stroke="#000" stroke-width="2.3" class="aa" stroke-linecap="round"/>
<rect x="501.2" y="456.2" width="33.2" height="17.6" rx="3.5" fill="#000" class="aa"/>
<rect x="502.9" y="457.9" width="29.2" height="13.5" rx="2.1" fill="#fff" class="aa"/>
<text transform="translate(516.9,469.138) scale(0.85,1)" font-size="13" letter-spacing="1.53" text-anchor="middle" fill="#000"  >JD1</text>
<line x1="517.8" y1="438.7" x2="517.8" y2="446.2" stroke="#000" stroke-width="1.8" />
<polygon points="517.8,444.2 515,458.7 520.6,458.7" fill="#fff" stroke="none" stroke-width="1" />
<line x1="517.8" y1="444.2" x2="515.3" y2="457.3" stroke="#000" stroke-width="2.3" class="aa" stroke-linecap="round"/>
<line x1="517.8" y1="444.2" x2="520.3" y2="457.3" stroke="#000" stroke-width="2.3" class="aa" stroke-linecap="round"/>
<line x1="532.5" y1="438.5" x2="540" y2="446.5" stroke="#000" stroke-width="2" class="aa"/>
<rect x="566.2" y="443" width="126.8" height="42.9" fill="#000" />
<path d="M693.2,458.6 h-2.6 a2,2 0 0 0 -2,2 v7 a2,2 0 0 0 2,2 h2.6 z" fill="#fff" class="aa"/>
<rect x="614" y="456.5" width="32.3" height="17.7" rx="2" fill="#000" class="aa"/>
<rect x="615.7" y="458.2" width="28.3" height="13.6" rx="0.6" fill="#fff" class="aa"/>
<text transform="translate(629.25,469.488) scale(0.85,1)" font-size="13" letter-spacing="1.76" text-anchor="middle" fill="#000"  >KBD</text>
<rect x="537.5" y="443.8" width="32.2" height="16.2" fill="#000" />
<rect x="538.9" y="445.2" width="29.2" height="12.4" fill="#fff" />
<text transform="translate(553.8,456.4) scale(0.85,1)" font-size="13" letter-spacing="1.53" text-anchor="middle" fill="#000"  >JX5</text>
<rect x="573.6" y="494.8" width="112" height="23.5" fill="#fff" stroke="#000" stroke-width="1"/>
<rect x="576.7" y="496.4" width="3.8" height="1.2" fill="#000" />
<rect x="575.1" y="499" width="7" height="2.4" fill="#000" />
<rect x="575.6" y="497.3" width="1.1" height="2" fill="#000" />
<rect x="580.5" y="497.3" width="1.1" height="2" fill="#000" />
<rect x="575.1" y="504.8" width="7" height="1.8" fill="#000" />
<rect x="586" y="496.4" width="3.8" height="1.2" fill="#000" />
<rect x="584.4" y="499" width="7" height="2.4" fill="#000" />
<rect x="584.9" y="497.3" width="1.1" height="2" fill="#000" />
<rect x="589.8" y="497.3" width="1.1" height="2" fill="#000" />
<rect x="584.4" y="504.8" width="7" height="1.8" fill="#000" />
<rect x="595.3" y="496.4" width="3.8" height="1.2" fill="#000" />
<rect x="593.7" y="499" width="7" height="2.4" fill="#000" />
<rect x="594.2" y="497.3" width="1.1" height="2" fill="#000" />
<rect x="599.1" y="497.3" width="1.1" height="2" fill="#000" />
<rect x="593.7" y="504.8" width="7" height="1.8" fill="#000" />
<rect x="604.6" y="496.4" width="3.8" height="1.2" fill="#000" />
<rect x="603" y="499" width="7" height="2.4" fill="#000" />
<rect x="603.5" y="497.3" width="1.1" height="2" fill="#000" />
<rect x="608.4" y="497.3" width="1.1" height="2" fill="#000" />
<rect x="603" y="504.8" width="7" height="1.8" fill="#000" />
<rect x="613.9" y="496.4" width="3.8" height="1.2" fill="#000" />
<rect x="612.3" y="499" width="7" height="2.4" fill="#000" />
<rect x="612.8" y="497.3" width="1.1" height="2" fill="#000" />
<rect x="617.7" y="497.3" width="1.1" height="2" fill="#000" />
<rect x="612.3" y="504.8" width="7" height="1.8" fill="#000" />
<rect x="623.2" y="496.4" width="3.8" height="1.2" fill="#000" />
<rect x="621.6" y="499" width="7" height="2.4" fill="#000" />
<rect x="622.1" y="497.3" width="1.1" height="2" fill="#000" />
<rect x="627" y="497.3" width="1.1" height="2" fill="#000" />
<rect x="621.6" y="504.8" width="7" height="1.8" fill="#000" />
<rect x="632.5" y="496.4" width="3.8" height="1.2" fill="#000" />
<rect x="630.9" y="499" width="7" height="2.4" fill="#000" />
<rect x="631.4" y="497.3" width="1.1" height="2" fill="#000" />
<rect x="636.3" y="497.3" width="1.1" height="2" fill="#000" />
<rect x="630.9" y="504.8" width="7" height="1.8" fill="#000" />
<rect x="641.8" y="496.4" width="3.8" height="1.2" fill="#000" />
<rect x="640.2" y="499" width="7" height="2.4" fill="#000" />
<rect x="640.7" y="497.3" width="1.1" height="2" fill="#000" />
<rect x="645.6" y="497.3" width="1.1" height="2" fill="#000" />
<rect x="640.2" y="504.8" width="7" height="1.8" fill="#000" />
<rect x="651.1" y="496.4" width="3.8" height="1.2" fill="#000" />
<rect x="649.5" y="499" width="7" height="2.4" fill="#000" />
<rect x="650" y="497.3" width="1.1" height="2" fill="#000" />
<rect x="654.9" y="497.3" width="1.1" height="2" fill="#000" />
<rect x="649.5" y="504.8" width="7" height="1.8" fill="#000" />
<rect x="660.4" y="496.4" width="3.8" height="1.2" fill="#000" />
<rect x="658.8" y="499" width="7" height="2.4" fill="#000" />
<rect x="659.3" y="497.3" width="1.1" height="2" fill="#000" />
<rect x="664.2" y="497.3" width="1.1" height="2" fill="#000" />
<rect x="658.8" y="504.8" width="7" height="1.8" fill="#000" />
<rect x="669.7" y="496.4" width="3.8" height="1.2" fill="#000" />
<rect x="668.1" y="499" width="7" height="2.4" fill="#000" />
<rect x="668.6" y="497.3" width="1.1" height="2" fill="#000" />
<rect x="673.5" y="497.3" width="1.1" height="2" fill="#000" />
<rect x="668.1" y="504.8" width="7" height="1.8" fill="#000" />
<rect x="679" y="496.4" width="3.8" height="1.2" fill="#000" />
<rect x="677.4" y="499" width="7" height="2.4" fill="#000" />
<rect x="677.9" y="497.3" width="1.1" height="2" fill="#000" />
<rect x="682.8" y="497.3" width="1.1" height="2" fill="#000" />
<rect x="677.4" y="504.8" width="7" height="1.8" fill="#000" />
<rect x="579.3" y="508.7" width="7.1" height="7" fill="#fff" stroke="#000" stroke-width="1"/>
<rect x="588.63" y="508.7" width="7.1" height="7" fill="#fff" stroke="#000" stroke-width="1"/>
<rect x="597.96" y="508.7" width="7.1" height="7" fill="#fff" stroke="#000" stroke-width="1"/>
<rect x="607.29" y="508.7" width="7.1" height="7" fill="#fff" stroke="#000" stroke-width="1"/>
<rect x="616.62" y="508.7" width="7.1" height="7" fill="#fff" stroke="#000" stroke-width="1"/>
<rect x="625.95" y="508.7" width="7.1" height="7" fill="#fff" stroke="#000" stroke-width="1"/>
<rect x="635.28" y="508.7" width="7.1" height="7" fill="#fff" stroke="#000" stroke-width="1"/>
<rect x="644.61" y="508.7" width="7.1" height="7" fill="#fff" stroke="#000" stroke-width="1"/>
<rect x="653.94" y="508.7" width="7.1" height="7" fill="#fff" stroke="#000" stroke-width="1"/>
<rect x="663.27" y="508.7" width="7.1" height="7" fill="#fff" stroke="#000" stroke-width="1"/>
<rect x="673.9" y="508.7" width="4.4" height="7" fill="#fff" stroke="#000" stroke-width="1"/>
<rect x="574" y="509" width="2" height="2" fill="#000" />
<rect x="574" y="513" width="2" height="2" fill="#000" />
<rect x="683.2" y="509" width="2" height="2" fill="#000" />
<rect x="683.2" y="513" width="2" height="2" fill="#000" />
<rect x="754" y="16" width="28.6" height="79.5" fill="#000" />
<rect x="782.9" y="16.5" width="1.1" height="78.5" fill="#fff" />
<rect x="784" y="16" width="1.3" height="79.5" fill="#000" />
<path d="M785,16.5 H795 a3.5,3.5 0 0 1 3.5,3.5 V91.5 a3.5,3.5 0 0 1 -3.5,3.5 H785" fill="none" stroke="#000" stroke-width="1" class="aa"/>
<rect x="763.5" y="45" width="31" height="16" rx="3" fill="#000" class="aa"/>
<rect x="764.5" y="46" width="28" height="13" rx="2" fill="#fff" class="aa"/>
<text transform="translate(778.5,56.7) scale(0.85,1)" font-size="12.5" letter-spacing="1.18" text-anchor="middle" fill="#000"  >CN6</text>
<rect x="755" y="125" width="27.6" height="90" fill="#000" />
<rect x="782.9" y="125.5" width="1.1" height="89" fill="#fff" />
<rect x="784" y="125" width="1.3" height="90" fill="#000" />
<path d="M785,125.5 H795 a3.5,3.5 0 0 1 3.5,3.5 V211 a3.5,3.5 0 0 1 -3.5,3.5 H785" fill="none" stroke="#000" stroke-width="1" class="aa"/>
<rect x="763.5" y="161" width="32" height="16" rx="3" fill="#000" class="aa"/>
<rect x="764.5" y="162" width="29" height="13" rx="2" fill="#fff" class="aa"/>
<text transform="translate(779,172.7) scale(0.85,1)" font-size="12.5" letter-spacing="1.18" text-anchor="middle" fill="#000"  >CN5</text>
<rect x="750" y="244" width="32.6" height="43.5" fill="#000" />
<rect x="782.9" y="244.5" width="1.1" height="42.5" fill="#fff" />
<rect x="784" y="244" width="1.3" height="43.5" fill="#000" />
<path d="M785,244.5 H795 a3.5,3.5 0 0 1 3.5,3.5 V283.5 a3.5,3.5 0 0 1 -3.5,3.5 H785" fill="none" stroke="#000" stroke-width="1" class="aa"/>
<rect x="760" y="257.5" width="30.5" height="15.5" rx="3" fill="#000" class="aa"/>
<rect x="761" y="258.5" width="27.5" height="12.5" rx="2" fill="#fff" class="aa"/>
<text transform="translate(774.75,268.95) scale(0.85,1)" font-size="12.5" letter-spacing="1.18" text-anchor="middle" fill="#000"  >CN4</text>
<rect x="750" y="320" width="32.6" height="43.5" fill="#000" />
<rect x="782.9" y="320.5" width="1.1" height="42.5" fill="#fff" />
<rect x="784" y="320" width="1.3" height="43.5" fill="#000" />
<path d="M785,320.5 H795 a3.5,3.5 0 0 1 3.5,3.5 V359.5 a3.5,3.5 0 0 1 -3.5,3.5 H785" fill="none" stroke="#000" stroke-width="1" class="aa"/>
<rect x="761" y="331" width="30.5" height="15.5" rx="3" fill="#000" class="aa"/>
<rect x="762" y="332" width="27.5" height="12.5" rx="2" fill="#fff" class="aa"/>
<text transform="translate(775.75,342.45) scale(0.85,1)" font-size="12.5" letter-spacing="1.18" text-anchor="middle" fill="#000"  >CN3</text>
<rect x="775.5" y="9.5" width="17.5" height="4.5" fill="#fff" stroke="#000" stroke-width="1"/>
<rect x="780" y="9" width="4.3" height="5.5" fill="#000" />
<rect x="775.5" y="98.5" width="17.5" height="5" fill="#fff" stroke="#000" stroke-width="1"/>
<rect x="780" y="98" width="4.3" height="6" fill="#000" />
<rect x="775.5" y="115.5" width="17.5" height="5" fill="#fff" stroke="#000" stroke-width="1"/>
<rect x="780" y="115" width="4.3" height="6" fill="#000" />
<rect x="775.5" y="218" width="17.5" height="5.5" fill="#fff" stroke="#000" stroke-width="1"/>
<rect x="780" y="217.5" width="4.3" height="6.5" fill="#000" />
<rect x="776.5" y="236.5" width="16.5" height="4.5" fill="#fff" stroke="#000" stroke-width="1"/>
<rect x="776" y="236" width="8" height="5.5" fill="#000" />
<rect x="776.5" y="290.5" width="16.5" height="5" fill="#fff" stroke="#000" stroke-width="1"/>
<rect x="776" y="290" width="8" height="6" fill="#000" />
<rect x="776.5" y="311.5" width="16.5" height="5.5" fill="#fff" stroke="#000" stroke-width="1"/>
<rect x="776" y="311" width="8" height="6.5" fill="#000" />
<rect x="776.5" y="366.5" width="16.5" height="5.5" fill="#fff" stroke="#000" stroke-width="1"/>
<rect x="776" y="366" width="8" height="6.5" fill="#000" />
<rect x="743.5" y="385.5" width="39" height="38.3" fill="#fff" stroke="#000" stroke-width="1"/>
<rect x="776.5" y="385" width="7" height="39.3" fill="#000" />
<rect x="747" y="395" width="29.5" height="16.5" rx="3" fill="#000" class="aa"/><rect x="748.2" y="396.2" width="27" height="13" rx="2" fill="#fff" class="aa"/>
<text transform="translate(761.5,407.5) scale(0.85,1)" font-size="12.5" letter-spacing="0.941" text-anchor="middle" fill="#000"  >CN2</text>
<rect x="752.2" y="442.7" width="31" height="36.7" fill="#000" />
<rect x="750" y="449.4" width="3" height="24.3" fill="#000" />
<rect x="776.5" y="439.3" width="7" height="45.2" fill="#000" />
<rect x="779.5" y="435.8" width="4" height="50.7" fill="#000" />
<rect x="746.5" y="451.5" width="4" height="7.2" fill="#fff" stroke="#000" stroke-width="1"/>
<rect x="746.5" y="463.5" width="4" height="7.7" fill="#fff" stroke="#000" stroke-width="1"/>
<rect x="750.2" y="459.2" width="2.2" height="3.8" fill="#fff" />
</svg>
</body></html>
